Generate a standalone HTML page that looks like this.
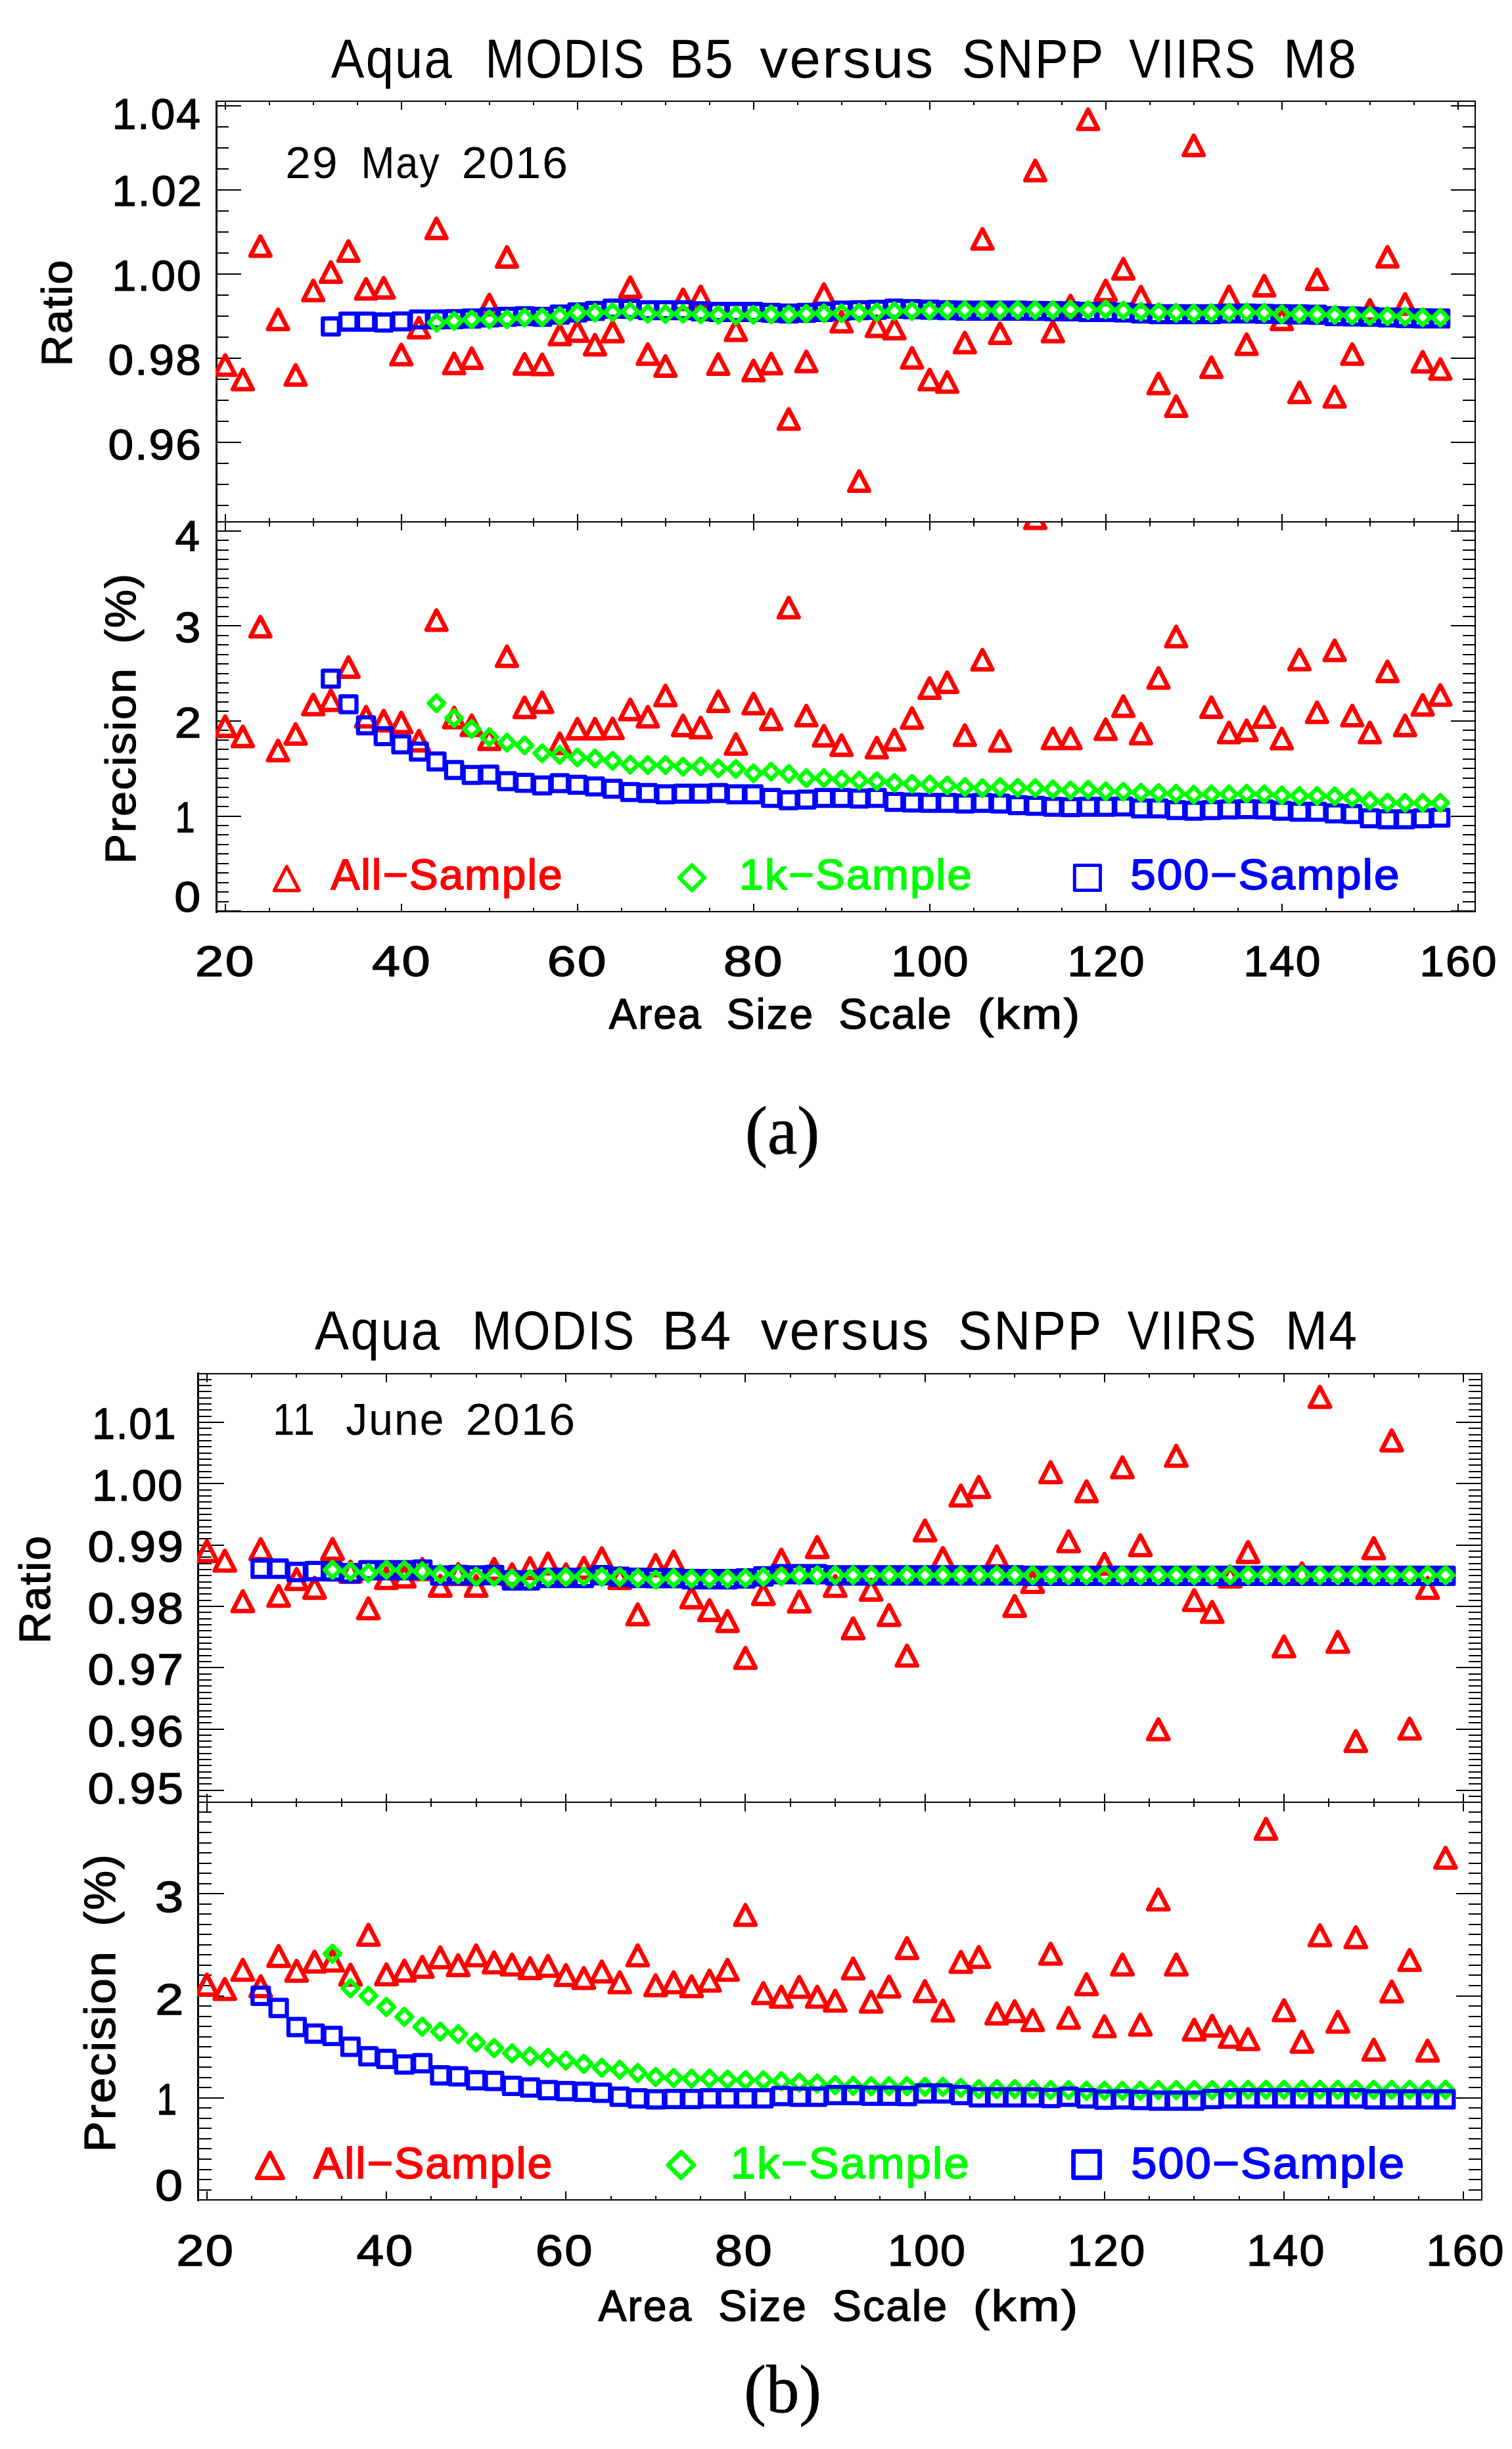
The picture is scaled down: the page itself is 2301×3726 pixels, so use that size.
<!DOCTYPE html>
<html lang="en"><head><meta charset="utf-8"><title>Aqua MODIS versus SNPP VIIRS</title>
<style>html,body{margin:0;padding:0;background:#fff}svg{display:block}text{white-space:pre}</style></head><body>
<svg width="2301" height="3726" viewBox="0 0 2301 3726">
<rect width="2301" height="3726" fill="#fff"/>
<defs>
<clipPath id="clipat"><rect x="328.1" y="154" width="1917.9" height="640.4"/></clipPath>
<clipPath id="clipab"><rect x="328.1" y="794.4" width="1917.9" height="592.9"/></clipPath>
<clipPath id="clipbt"><rect x="300.1" y="2089.6" width="1956.3" height="652.8"/></clipPath>
<clipPath id="clipbb"><rect x="300.1" y="2742.4" width="1956.3" height="605"/></clipPath>
</defs>
<path d="M342.7 154v12.8M342.7 781.6v25.6M342.7 1387.3v-12.8M409.7 154v6.4M409.7 788v12.8M409.7 1387.3v-6.4M476.7 154v6.4M476.7 788v12.8M476.7 1387.3v-6.4M543.7 154v6.4M543.7 788v12.8M543.7 1387.3v-6.4M610.7 154v12.8M610.7 781.6v25.6M610.7 1387.3v-12.8M677.7 154v6.4M677.7 788v12.8M677.7 1387.3v-6.4M744.7 154v6.4M744.7 788v12.8M744.7 1387.3v-6.4M811.7 154v6.4M811.7 788v12.8M811.7 1387.3v-6.4M878.7 154v12.8M878.7 781.6v25.6M878.7 1387.3v-12.8M945.7 154v6.4M945.7 788v12.8M945.7 1387.3v-6.4M1012.7 154v6.4M1012.7 788v12.8M1012.7 1387.3v-6.4M1079.7 154v6.4M1079.7 788v12.8M1079.7 1387.3v-6.4M1146.7 154v12.8M1146.7 781.6v25.6M1146.7 1387.3v-12.8M1213.7 154v6.4M1213.7 788v12.8M1213.7 1387.3v-6.4M1280.7 154v6.4M1280.7 788v12.8M1280.7 1387.3v-6.4M1347.7 154v6.4M1347.7 788v12.8M1347.7 1387.3v-6.4M1414.7 154v12.8M1414.7 781.6v25.6M1414.7 1387.3v-12.8M1481.7 154v6.4M1481.7 788v12.8M1481.7 1387.3v-6.4M1548.7 154v6.4M1548.7 788v12.8M1548.7 1387.3v-6.4M1615.7 154v6.4M1615.7 788v12.8M1615.7 1387.3v-6.4M1682.7 154v12.8M1682.7 781.6v25.6M1682.7 1387.3v-12.8M1749.7 154v6.4M1749.7 788v12.8M1749.7 1387.3v-6.4M1816.7 154v6.4M1816.7 788v12.8M1816.7 1387.3v-6.4M1883.7 154v6.4M1883.7 788v12.8M1883.7 1387.3v-6.4M1950.7 154v12.8M1950.7 781.6v25.6M1950.7 1387.3v-12.8M2017.7 154v6.4M2017.7 788v12.8M2017.7 1387.3v-6.4M2084.7 154v6.4M2084.7 788v12.8M2084.7 1387.3v-6.4M2151.7 154v6.4M2151.7 788v12.8M2151.7 1387.3v-6.4M2218.7 154v12.8M2218.7 781.6v25.6M2218.7 1387.3v-12.8M329.5 768.6h18.7M2245 768.6h-18.7M329.5 736.6h18.7M2245 736.6h-18.7M329.5 704.6h18.7M2245 704.6h-18.7M329.5 672.6h37.5M2245 672.6h-37.5M329.5 640.6h18.7M2245 640.6h-18.7M329.5 608.6h18.7M2245 608.6h-18.7M329.5 576.6h18.7M2245 576.6h-18.7M329.5 544.6h37.5M2245 544.6h-37.5M329.5 512.6h18.7M2245 512.6h-18.7M329.5 480.6h18.7M2245 480.6h-18.7M329.5 448.6h18.7M2245 448.6h-18.7M329.5 416.6h37.5M2245 416.6h-37.5M329.5 384.6h18.7M2245 384.6h-18.7M329.5 352.6h18.7M2245 352.6h-18.7M329.5 320.6h18.7M2245 320.6h-18.7M329.5 288.6h37.5M2245 288.6h-37.5M329.5 256.6h18.7M2245 256.6h-18.7M329.5 224.6h18.7M2245 224.6h-18.7M329.5 192.6h18.7M2245 192.6h-18.7M329.5 160.6h37.5M2245 160.6h-37.5M329.5 1386.1h37.5M2245 1386.1h-37.5M329.5 1371.64h18.7M2245 1371.64h-18.7M329.5 1357.18h18.7M2245 1357.18h-18.7M329.5 1342.72h18.7M2245 1342.72h-18.7M329.5 1328.26h18.7M2245 1328.26h-18.7M329.5 1313.8h18.7M2245 1313.8h-18.7M329.5 1299.34h18.7M2245 1299.34h-18.7M329.5 1284.88h18.7M2245 1284.88h-18.7M329.5 1270.42h18.7M2245 1270.42h-18.7M329.5 1255.96h18.7M2245 1255.96h-18.7M329.5 1241.5h37.5M2245 1241.5h-37.5M329.5 1227.04h18.7M2245 1227.04h-18.7M329.5 1212.58h18.7M2245 1212.58h-18.7M329.5 1198.12h18.7M2245 1198.12h-18.7M329.5 1183.66h18.7M2245 1183.66h-18.7M329.5 1169.2h18.7M2245 1169.2h-18.7M329.5 1154.74h18.7M2245 1154.74h-18.7M329.5 1140.28h18.7M2245 1140.28h-18.7M329.5 1125.82h18.7M2245 1125.82h-18.7M329.5 1111.36h18.7M2245 1111.36h-18.7M329.5 1096.9h37.5M2245 1096.9h-37.5M329.5 1082.44h18.7M2245 1082.44h-18.7M329.5 1067.98h18.7M2245 1067.98h-18.7M329.5 1053.52h18.7M2245 1053.52h-18.7M329.5 1039.06h18.7M2245 1039.06h-18.7M329.5 1024.6h18.7M2245 1024.6h-18.7M329.5 1010.14h18.7M2245 1010.14h-18.7M329.5 995.68h18.7M2245 995.68h-18.7M329.5 981.22h18.7M2245 981.22h-18.7M329.5 966.76h18.7M2245 966.76h-18.7M329.5 952.3h37.5M2245 952.3h-37.5M329.5 937.84h18.7M2245 937.84h-18.7M329.5 923.38h18.7M2245 923.38h-18.7M329.5 908.92h18.7M2245 908.92h-18.7M329.5 894.46h18.7M2245 894.46h-18.7M329.5 880h18.7M2245 880h-18.7M329.5 865.54h18.7M2245 865.54h-18.7M329.5 851.08h18.7M2245 851.08h-18.7M329.5 836.62h18.7M2245 836.62h-18.7M329.5 822.16h18.7M2245 822.16h-18.7M329.5 807.7h37.5M2245 807.7h-37.5" stroke="#000" stroke-width="2" fill="none" shape-rendering="crispEdges"/>
<path d="M329.5 154H2245M329.5 794.4H2245M329.5 1387.3H2245" stroke="#000" stroke-width="2" fill="none" stroke-linecap="square" shape-rendering="crispEdges"/>
<path d="M2245 154V1387.3" stroke="#000" stroke-width="2" fill="none" stroke-linecap="square" shape-rendering="crispEdges"/>
<path d="M329.5 154V1387.3" stroke="#000" stroke-width="3" fill="none" stroke-linecap="square" shape-rendering="crispEdges"/>
<g clip-path="url(#clipat)">
<path d="M327.5 570.2L342.7 540.8L357.9 570.2ZM354.3 592.2L369.5 562.8L384.7 592.2ZM381.1 389.1L396.3 359.7L411.5 389.1ZM407.9 500.7L423.1 471.3L438.3 500.7ZM434.7 585.2L449.9 555.8L465.1 585.2ZM461.5 456.7L476.7 427.3L491.9 456.7ZM488.3 428.7L503.5 399.3L518.7 428.7ZM515.1 396.7L530.3 367.3L545.5 396.7ZM541.9 454.2L557.1 424.8L572.3 454.2ZM568.7 452.7L583.9 423.3L599.1 452.7ZM595.5 554.2L610.7 524.8L625.9 554.2ZM622.3 513.2L637.5 483.8L652.7 513.2ZM649.1 362.2L664.3 332.8L679.5 362.2ZM675.9 567.7L691.1 538.3L706.3 567.7ZM702.7 559.7L717.9 530.3L733.1 559.7ZM729.5 478.2L744.7 448.8L759.9 478.2ZM756.3 405.7L771.5 376.3L786.7 405.7ZM783.1 568.45L798.3 539.05L813.5 568.45ZM809.9 569.2L825.1 539.8L840.3 569.2ZM836.7 523.7L851.9 494.3L867.1 523.7ZM863.5 518.45L878.7 489.05L893.9 518.45ZM890.3 539.2L905.5 509.8L920.7 539.2ZM917.1 519.2L932.3 489.8L947.5 519.2ZM943.9 451.7L959.1 422.3L974.3 451.7ZM970.7 553.45L985.9 524.05L1001.1 553.45ZM997.5 571.7L1012.7 542.3L1027.9 571.7ZM1024.3 470.2L1039.5 440.8L1054.7 470.2ZM1051.1 465.7L1066.3 436.3L1081.5 465.7ZM1077.9 568.7L1093.1 539.3L1108.3 568.7ZM1104.7 517.2L1119.9 487.8L1135.1 517.2ZM1131.5 578.45L1146.7 549.05L1161.9 578.45ZM1158.3 567.95L1173.5 538.55L1188.7 567.95ZM1185.1 652.2L1200.3 622.8L1215.5 652.2ZM1211.9 564.7L1227.1 535.3L1242.3 564.7ZM1238.7 462.2L1253.9 432.8L1269.1 462.2ZM1265.5 504.2L1280.7 474.8L1295.9 504.2ZM1292.3 746.7L1307.5 717.3L1322.7 746.7ZM1319.1 511.2L1334.3 481.8L1349.5 511.2ZM1345.9 514.7L1361.1 485.3L1376.3 514.7ZM1372.7 559.2L1387.9 529.8L1403.1 559.2ZM1399.5 592.2L1414.7 562.8L1429.9 592.2ZM1426.3 595.95L1441.5 566.55L1456.7 595.95ZM1453.1 535.95L1468.3 506.55L1483.5 535.95ZM1479.9 378.2L1495.1 348.8L1510.3 378.2ZM1506.7 521.7L1521.9 492.3L1537.1 521.7ZM1560.3 274.2L1575.5 244.8L1590.7 274.2ZM1587.1 519.2L1602.3 489.8L1617.5 519.2ZM1613.9 479.7L1629.1 450.3L1644.3 479.7ZM1640.7 196.2L1655.9 166.8L1671.1 196.2ZM1667.5 456.7L1682.7 427.3L1697.9 456.7ZM1694.3 423.7L1709.5 394.3L1724.7 423.7ZM1721.1 466.2L1736.3 436.8L1751.5 466.2ZM1747.9 598.2L1763.1 568.8L1778.3 598.2ZM1774.7 632.7L1789.9 603.3L1805.1 632.7ZM1801.5 235.95L1816.7 206.55L1831.9 235.95ZM1828.3 573.45L1843.5 544.05L1858.7 573.45ZM1855.1 465.7L1870.3 436.3L1885.5 465.7ZM1881.9 538.45L1897.1 509.05L1912.3 538.45ZM1908.7 449.45L1923.9 420.05L1939.1 449.45ZM1935.5 500.7L1950.7 471.3L1965.9 500.7ZM1962.3 611.7L1977.5 582.3L1992.7 611.7ZM1989.1 439.7L2004.3 410.3L2019.5 439.7ZM2015.9 618.45L2031.1 589.05L2046.3 618.45ZM2042.7 553.45L2057.9 524.05L2073.1 553.45ZM2069.5 486.2L2084.7 456.8L2099.9 486.2ZM2096.3 405.45L2111.5 376.05L2126.7 405.45ZM2123.1 477.2L2138.3 447.8L2153.5 477.2ZM2149.9 565.2L2165.1 535.8L2180.3 565.2ZM2176.7 576.2L2191.9 546.8L2207.1 576.2Z" stroke="#ff0000" stroke-width="6.7" fill="none" stroke-linejoin="round"/>
<path d="M491.3 484.5h24.4v24.4h-24.4ZM518.1 477.1h24.4v24.4h-24.4ZM544.9 477.1h24.4v24.4h-24.4ZM571.7 478.5h24.4v24.4h-24.4ZM598.5 476.8h24.4v24.4h-24.4ZM625.3 473.8h24.4v24.4h-24.4ZM652.1 473.8h24.4v24.4h-24.4ZM678.9 473.3h24.4v24.4h-24.4ZM705.7 472.5h24.4v24.4h-24.4ZM732.5 470.8h24.4v24.4h-24.4ZM759.3 469.8h24.4v24.4h-24.4ZM786.1 468.8h24.4v24.4h-24.4ZM812.9 469.8h24.4v24.4h-24.4ZM839.7 466.5h24.4v24.4h-24.4ZM866.5 463.1h24.4v24.4h-24.4ZM893.3 460.8h24.4v24.4h-24.4ZM920.1 457.5h24.4v24.4h-24.4ZM946.9 457.8h24.4v24.4h-24.4ZM973.7 459.8h24.4v24.4h-24.4ZM1000.5 459.8h24.4v24.4h-24.4ZM1027.3 459.8h24.4v24.4h-24.4ZM1054.1 461.5h24.4v24.4h-24.4ZM1080.9 462.5h24.4v24.4h-24.4ZM1107.7 462.5h24.4v24.4h-24.4ZM1134.5 462.5h24.4v24.4h-24.4ZM1161.3 463.8h24.4v24.4h-24.4ZM1188.1 464.8h24.4v24.4h-24.4ZM1214.9 463.8h24.4v24.4h-24.4ZM1241.7 462.5h24.4v24.4h-24.4ZM1268.5 460.5h24.4v24.4h-24.4ZM1295.3 459.8h24.4v24.4h-24.4ZM1322.1 459.1h24.4v24.4h-24.4ZM1348.9 457.5h24.4v24.4h-24.4ZM1375.7 458.1h24.4v24.4h-24.4ZM1402.5 459h24.4v24.4h-24.4ZM1429.3 459.8h24.4v24.4h-24.4ZM1456.1 460.5h24.4v24.4h-24.4ZM1482.9 460.5h24.4v24.4h-24.4ZM1509.7 460.5h24.4v24.4h-24.4ZM1536.5 460.5h24.4v24.4h-24.4ZM1563.3 460.8h24.4v24.4h-24.4ZM1590.1 461.1h24.4v24.4h-24.4ZM1616.9 461.5h24.4v24.4h-24.4ZM1643.7 462.5h24.4v24.4h-24.4ZM1670.5 462.5h24.4v24.4h-24.4ZM1697.3 463.3h24.4v24.4h-24.4ZM1724.1 464.8h24.4v24.4h-24.4ZM1750.9 465.8h24.4v24.4h-24.4ZM1777.7 465.8h24.4v24.4h-24.4ZM1804.5 465.8h24.4v24.4h-24.4ZM1831.3 465.8h24.4v24.4h-24.4ZM1858.1 464.8h24.4v24.4h-24.4ZM1884.9 464.8h24.4v24.4h-24.4ZM1911.7 465.3h24.4v24.4h-24.4ZM1938.5 465.8h24.4v24.4h-24.4ZM1965.3 466.2h24.4v24.4h-24.4ZM1992.1 466.6h24.4v24.4h-24.4ZM2018.9 468.8h24.4v24.4h-24.4ZM2045.7 469.3h24.4v24.4h-24.4ZM2072.5 469.8h24.4v24.4h-24.4ZM2099.3 470.8h24.4v24.4h-24.4ZM2126.1 471.6h24.4v24.4h-24.4ZM2152.9 472.1h24.4v24.4h-24.4ZM2179.7 472.3h24.4v24.4h-24.4Z" stroke="#0000ff" stroke-width="6.3" fill="none" stroke-linejoin="round"/>
<path d="M652.7 491L664.3 479.4L675.9 491L664.3 502.6ZM679.5 488.3L691.1 476.7L702.7 488.3L691.1 499.9ZM706.3 486L717.9 474.4L729.5 486L717.9 497.6ZM733.1 486L744.7 474.4L756.3 486L744.7 497.6ZM759.9 485.7L771.5 474.1L783.1 485.7L771.5 497.3ZM786.7 483.3L798.3 471.7L809.9 483.3L798.3 494.9ZM813.5 482.7L825.1 471.1L836.7 482.7L825.1 494.3ZM840.3 480.7L851.9 469.1L863.5 480.7L851.9 492.3ZM867.1 476L878.7 464.4L890.3 476L878.7 487.6ZM893.9 475.7L905.5 464.1L917.1 475.7L905.5 487.3ZM920.7 475L932.3 463.4L943.9 475L932.3 486.6ZM947.5 474L959.1 462.4L970.7 474L959.1 485.6ZM974.3 477.3L985.9 465.7L997.5 477.3L985.9 488.9ZM1001.1 477.7L1012.7 466.1L1024.3 477.7L1012.7 489.3ZM1027.9 477.3L1039.5 465.7L1051.1 477.3L1039.5 488.9ZM1054.7 478.3L1066.3 466.7L1077.9 478.3L1066.3 489.9ZM1081.5 479.3L1093.1 467.7L1104.7 479.3L1093.1 490.9ZM1108.3 480L1119.9 468.4L1131.5 480L1119.9 491.6ZM1135.1 479L1146.7 467.4L1158.3 479L1146.7 490.6ZM1161.9 478.3L1173.5 466.7L1185.1 478.3L1173.5 489.9ZM1188.7 478.3L1200.3 466.7L1211.9 478.3L1200.3 489.9ZM1215.5 477.3L1227.1 465.7L1238.7 477.3L1227.1 488.9ZM1242.3 476.7L1253.9 465.1L1265.5 476.7L1253.9 488.3ZM1269.1 476.7L1280.7 465.1L1292.3 476.7L1280.7 488.3ZM1295.9 475.7L1307.5 464.1L1319.1 475.7L1307.5 487.3ZM1322.7 475L1334.3 463.4L1345.9 475L1334.3 486.6ZM1349.5 473.3L1361.1 461.7L1372.7 473.3L1361.1 484.9ZM1376.3 473.3L1387.9 461.7L1399.5 473.3L1387.9 484.9ZM1403.1 472.7L1414.7 461.1L1426.3 472.7L1414.7 484.3ZM1429.9 472.3L1441.5 460.7L1453.1 472.3L1441.5 483.9ZM1456.7 472L1468.3 460.4L1479.9 472L1468.3 483.6ZM1483.5 471.7L1495.1 460.1L1506.7 471.7L1495.1 483.3ZM1510.3 472.3L1521.9 460.7L1533.5 472.3L1521.9 483.9ZM1537.1 471.7L1548.7 460.1L1560.3 471.7L1548.7 483.3ZM1563.9 471.7L1575.5 460.1L1587.1 471.7L1575.5 483.3ZM1590.7 471.7L1602.3 460.1L1613.9 471.7L1602.3 483.3ZM1617.5 471L1629.1 459.4L1640.7 471L1629.1 482.6ZM1644.3 471.7L1655.9 460.1L1667.5 471.7L1655.9 483.3ZM1671.1 470.7L1682.7 459.1L1694.3 470.7L1682.7 482.3ZM1697.9 472.3L1709.5 460.7L1721.1 472.3L1709.5 483.9ZM1724.7 474.3L1736.3 462.7L1747.9 474.3L1736.3 485.9ZM1751.5 475L1763.1 463.4L1774.7 475L1763.1 486.6ZM1778.3 476L1789.9 464.4L1801.5 476L1789.9 487.6ZM1805.1 476.8L1816.7 465.2L1828.3 476.8L1816.7 488.4ZM1831.9 476.3L1843.5 464.7L1855.1 476.3L1843.5 487.9ZM1858.7 475.5L1870.3 463.9L1881.9 475.5L1870.3 487.1ZM1885.5 475.5L1897.1 463.9L1908.7 475.5L1897.1 487.1ZM1912.3 476L1923.9 464.4L1935.5 476L1923.9 487.6ZM1939.1 478.3L1950.7 466.7L1962.3 478.3L1950.7 489.9ZM1965.9 477.7L1977.5 466.1L1989.1 477.7L1977.5 489.3ZM1992.7 478.3L2004.3 466.7L2015.9 478.3L2004.3 489.9ZM2019.5 479L2031.1 467.4L2042.7 479L2031.1 490.6ZM2046.3 480L2057.9 468.4L2069.5 480L2057.9 491.6ZM2073.1 480.7L2084.7 469.1L2096.3 480.7L2084.7 492.3ZM2099.9 481L2111.5 469.4L2123.1 481L2111.5 492.6ZM2126.7 481.7L2138.3 470.1L2149.9 481.7L2138.3 493.3ZM2153.5 482.7L2165.1 471.1L2176.7 482.7L2165.1 494.3ZM2180.3 483.3L2191.9 471.7L2203.5 483.3L2191.9 494.9Z" stroke="#00ff00" stroke-width="6.7" fill="none" stroke-linejoin="round"/>
</g>
<g clip-path="url(#clipab)">
<path d="M327.5 1119.7L342.7 1090.3L357.9 1119.7ZM354.3 1135.2L369.5 1105.8L384.7 1135.2ZM381.1 968.2L396.3 938.8L411.5 968.2ZM407.9 1156.7L423.1 1127.3L438.3 1156.7ZM434.7 1131.45L449.9 1102.05L465.1 1131.45ZM461.5 1086.7L476.7 1057.3L491.9 1086.7ZM488.3 1080.2L503.5 1050.8L518.7 1080.2ZM515.1 1029.7L530.3 1000.3L545.5 1029.7ZM541.9 1105.2L557.1 1075.8L572.3 1105.2ZM568.7 1111.2L583.9 1081.8L599.1 1111.2ZM595.5 1113.95L610.7 1084.55L625.9 1113.95ZM622.3 1141.7L637.5 1112.3L652.7 1141.7ZM649.1 958.2L664.3 928.8L679.5 958.2ZM675.9 1106.45L691.1 1077.05L706.3 1106.45ZM702.7 1118.2L717.9 1088.8L733.1 1118.2ZM729.5 1139.45L744.7 1110.05L759.9 1139.45ZM756.3 1013.2L771.5 983.8L786.7 1013.2ZM783.1 1090.95L798.3 1061.55L813.5 1090.95ZM809.9 1083.2L825.1 1053.8L840.3 1083.2ZM836.7 1145.7L851.9 1116.3L867.1 1145.7ZM863.5 1123.45L878.7 1094.05L893.9 1123.45ZM890.3 1123.45L905.5 1094.05L920.7 1123.45ZM917.1 1122.95L932.3 1093.55L947.5 1122.95ZM943.9 1094.2L959.1 1064.8L974.3 1094.2ZM970.7 1105.2L985.9 1075.8L1001.1 1105.2ZM997.5 1072.95L1012.7 1043.55L1027.9 1072.95ZM1024.3 1118.45L1039.5 1089.05L1054.7 1118.45ZM1051.1 1121.7L1066.3 1092.3L1081.5 1121.7ZM1077.9 1081.7L1093.1 1052.3L1108.3 1081.7ZM1104.7 1146.7L1119.9 1117.3L1135.1 1146.7ZM1131.5 1085.2L1146.7 1055.8L1161.9 1085.2ZM1158.3 1109.2L1173.5 1079.8L1188.7 1109.2ZM1185.1 939.2L1200.3 909.8L1215.5 939.2ZM1211.9 1103.45L1227.1 1074.05L1242.3 1103.45ZM1238.7 1134.2L1253.9 1104.8L1269.1 1134.2ZM1265.5 1148.45L1280.7 1119.05L1295.9 1148.45ZM1319.1 1152.2L1334.3 1122.8L1349.5 1152.2ZM1345.9 1140.2L1361.1 1110.8L1376.3 1140.2ZM1372.7 1107.2L1387.9 1077.8L1403.1 1107.2ZM1399.5 1061.7L1414.7 1032.3L1429.9 1061.7ZM1426.3 1052.7L1441.5 1023.3L1456.7 1052.7ZM1453.1 1133.2L1468.3 1103.8L1483.5 1133.2ZM1479.9 1018.45L1495.1 989.05L1510.3 1018.45ZM1506.7 1141.95L1521.9 1112.55L1537.1 1141.95ZM1560.3 803.2L1575.5 773.8L1590.7 803.2ZM1587.1 1138.2L1602.3 1108.8L1617.5 1138.2ZM1613.9 1138.2L1629.1 1108.8L1644.3 1138.2ZM1667.5 1124.2L1682.7 1094.8L1697.9 1124.2ZM1694.3 1089.2L1709.5 1059.8L1724.7 1089.2ZM1721.1 1130.95L1736.3 1101.55L1751.5 1130.95ZM1747.9 1046.2L1763.1 1016.8L1778.3 1046.2ZM1774.7 983.2L1789.9 953.8L1805.1 983.2ZM1828.3 1090.7L1843.5 1061.3L1858.7 1090.7ZM1855.1 1129.2L1870.3 1099.8L1885.5 1129.2ZM1881.9 1125.95L1897.1 1096.55L1912.3 1125.95ZM1908.7 1105.7L1923.9 1076.3L1939.1 1105.7ZM1935.5 1138.45L1950.7 1109.05L1965.9 1138.45ZM1962.3 1018.2L1977.5 988.8L1992.7 1018.2ZM1989.1 1098.45L2004.3 1069.05L2019.5 1098.45ZM2015.9 1004.2L2031.1 974.8L2046.3 1004.2ZM2042.7 1103.45L2057.9 1074.05L2073.1 1103.45ZM2069.5 1129.2L2084.7 1099.8L2099.9 1129.2ZM2096.3 1036.2L2111.5 1006.8L2126.7 1036.2ZM2123.1 1118.45L2138.3 1089.05L2153.5 1118.45ZM2149.9 1087.2L2165.1 1057.8L2180.3 1087.2ZM2176.7 1072.2L2191.9 1042.8L2207.1 1072.2Z" stroke="#ff0000" stroke-width="6.7" fill="none" stroke-linejoin="round"/>
<path d="M491.3 1020.3h24.4v24.4h-24.4ZM518.1 1059.3h24.4v24.4h-24.4ZM544.9 1091.3h24.4v24.4h-24.4ZM571.7 1107.8h24.4v24.4h-24.4ZM598.5 1120.3h24.4v24.4h-24.4ZM625.3 1131.3h24.4v24.4h-24.4ZM652.1 1146.3h24.4v24.4h-24.4ZM678.9 1159.3h24.4v24.4h-24.4ZM705.7 1166.8h24.4v24.4h-24.4ZM732.5 1166.3h24.4v24.4h-24.4ZM759.3 1176.3h24.4v24.4h-24.4ZM786.1 1178.8h24.4v24.4h-24.4ZM812.9 1182.8h24.4v24.4h-24.4ZM839.7 1179.3h24.4v24.4h-24.4ZM866.5 1181.8h24.4v24.4h-24.4ZM893.3 1184.3h24.4v24.4h-24.4ZM920.1 1187.8h24.4v24.4h-24.4ZM946.9 1192.8h24.4v24.4h-24.4ZM973.7 1194.3h24.4v24.4h-24.4ZM1000.5 1196.3h24.4v24.4h-24.4ZM1027.3 1195.3h24.4v24.4h-24.4ZM1054.1 1195.3h24.4v24.4h-24.4ZM1080.9 1194.3h24.4v24.4h-24.4ZM1107.7 1196.3h24.4v24.4h-24.4ZM1134.5 1196.3h24.4v24.4h-24.4ZM1161.3 1201.8h24.4v24.4h-24.4ZM1188.1 1205.3h24.4v24.4h-24.4ZM1214.9 1204.3h24.4v24.4h-24.4ZM1241.7 1201.8h24.4v24.4h-24.4ZM1268.5 1201.8h24.4v24.4h-24.4ZM1295.3 1202.8h24.4v24.4h-24.4ZM1322.1 1201.8h24.4v24.4h-24.4ZM1348.9 1207.8h24.4v24.4h-24.4ZM1375.7 1208.8h24.4v24.4h-24.4ZM1402.5 1209.3h24.4v24.4h-24.4ZM1429.3 1209.3h24.4v24.4h-24.4ZM1456.1 1210.3h24.4v24.4h-24.4ZM1482.9 1209.3h24.4v24.4h-24.4ZM1509.7 1210.3h24.4v24.4h-24.4ZM1536.5 1212.8h24.4v24.4h-24.4ZM1563.3 1213.8h24.4v24.4h-24.4ZM1590.1 1215.3h24.4v24.4h-24.4ZM1616.9 1215.8h24.4v24.4h-24.4ZM1643.7 1215.3h24.4v24.4h-24.4ZM1670.5 1215.3h24.4v24.4h-24.4ZM1697.3 1214.8h24.4v24.4h-24.4ZM1724.1 1217.8h24.4v24.4h-24.4ZM1750.9 1217.8h24.4v24.4h-24.4ZM1777.7 1220.3h24.4v24.4h-24.4ZM1804.5 1221.3h24.4v24.4h-24.4ZM1831.3 1220.3h24.4v24.4h-24.4ZM1858.1 1219.3h24.4v24.4h-24.4ZM1884.9 1218.8h24.4v24.4h-24.4ZM1911.7 1219.3h24.4v24.4h-24.4ZM1938.5 1221.3h24.4v24.4h-24.4ZM1965.3 1222.8h24.4v24.4h-24.4ZM1992.1 1222.8h24.4v24.4h-24.4ZM2018.9 1225.3h24.4v24.4h-24.4ZM2045.7 1226.3h24.4v24.4h-24.4ZM2072.5 1232.8h24.4v24.4h-24.4ZM2099.3 1234.3h24.4v24.4h-24.4ZM2126.1 1234.3h24.4v24.4h-24.4ZM2152.9 1232.8h24.4v24.4h-24.4ZM2179.7 1231.8h24.4v24.4h-24.4Z" stroke="#0000ff" stroke-width="6.3" fill="none" stroke-linejoin="round"/>
<path d="M652.7 1070L664.3 1058.4L675.9 1070L664.3 1081.6ZM679.5 1092.5L691.1 1080.9L702.7 1092.5L691.1 1104.1ZM706.3 1109L717.9 1097.4L729.5 1109L717.9 1120.6ZM733.1 1121.5L744.7 1109.9L756.3 1121.5L744.7 1133.1ZM759.9 1130L771.5 1118.4L783.1 1130L771.5 1141.6ZM786.7 1134L798.3 1122.4L809.9 1134L798.3 1145.6ZM813.5 1146L825.1 1134.4L836.7 1146L825.1 1157.6ZM840.3 1148.5L851.9 1136.9L863.5 1148.5L851.9 1160.1ZM867.1 1152.5L878.7 1140.9L890.3 1152.5L878.7 1164.1ZM893.9 1154L905.5 1142.4L917.1 1154L905.5 1165.6ZM920.7 1157.5L932.3 1145.9L943.9 1157.5L932.3 1169.1ZM947.5 1163.5L959.1 1151.9L970.7 1163.5L959.1 1175.1ZM974.3 1164L985.9 1152.4L997.5 1164L985.9 1175.6ZM1001.1 1164L1012.7 1152.4L1024.3 1164L1012.7 1175.6ZM1027.9 1166.5L1039.5 1154.9L1051.1 1166.5L1039.5 1178.1ZM1054.7 1166L1066.3 1154.4L1077.9 1166L1066.3 1177.6ZM1081.5 1169L1093.1 1157.4L1104.7 1169L1093.1 1180.6ZM1108.3 1170L1119.9 1158.4L1131.5 1170L1119.9 1181.6ZM1135.1 1176.5L1146.7 1164.9L1158.3 1176.5L1146.7 1188.1ZM1161.9 1174L1173.5 1162.4L1185.1 1174L1173.5 1185.6ZM1188.7 1177.5L1200.3 1165.9L1211.9 1177.5L1200.3 1189.1ZM1215.5 1184L1227.1 1172.4L1238.7 1184L1227.1 1195.6ZM1242.3 1184L1253.9 1172.4L1265.5 1184L1253.9 1195.6ZM1269.1 1186L1280.7 1174.4L1292.3 1186L1280.7 1197.6ZM1295.9 1187.5L1307.5 1175.9L1319.1 1187.5L1307.5 1199.1ZM1322.7 1188.5L1334.3 1176.9L1345.9 1188.5L1334.3 1200.1ZM1349.5 1191L1361.1 1179.4L1372.7 1191L1361.1 1202.6ZM1376.3 1192.5L1387.9 1180.9L1399.5 1192.5L1387.9 1204.1ZM1403.1 1193.5L1414.7 1181.9L1426.3 1193.5L1414.7 1205.1ZM1429.9 1195L1441.5 1183.4L1453.1 1195L1441.5 1206.6ZM1456.7 1197.5L1468.3 1185.9L1479.9 1197.5L1468.3 1209.1ZM1483.5 1199L1495.1 1187.4L1506.7 1199L1495.1 1210.6ZM1510.3 1197.5L1521.9 1185.9L1533.5 1197.5L1521.9 1209.1ZM1537.1 1198.5L1548.7 1186.9L1560.3 1198.5L1548.7 1210.1ZM1563.9 1199L1575.5 1187.4L1587.1 1199L1575.5 1210.6ZM1590.7 1201L1602.3 1189.4L1613.9 1201L1602.3 1212.6ZM1617.5 1202.5L1629.1 1190.9L1640.7 1202.5L1629.1 1214.1ZM1644.3 1201.5L1655.9 1189.9L1667.5 1201.5L1655.9 1213.1ZM1671.1 1204L1682.7 1192.4L1694.3 1204L1682.7 1215.6ZM1697.9 1204.5L1709.5 1192.9L1721.1 1204.5L1709.5 1216.1ZM1724.7 1206L1736.3 1194.4L1747.9 1206L1736.3 1217.6ZM1751.5 1206.5L1763.1 1194.9L1774.7 1206.5L1763.1 1218.1ZM1778.3 1207.5L1789.9 1195.9L1801.5 1207.5L1789.9 1219.1ZM1805.1 1209L1816.7 1197.4L1828.3 1209L1816.7 1220.6ZM1831.9 1208.5L1843.5 1196.9L1855.1 1208.5L1843.5 1220.1ZM1858.7 1208.5L1870.3 1196.9L1881.9 1208.5L1870.3 1220.1ZM1885.5 1207.5L1897.1 1195.9L1908.7 1207.5L1897.1 1219.1ZM1912.3 1208.5L1923.9 1196.9L1935.5 1208.5L1923.9 1220.1ZM1939.1 1210L1950.7 1198.4L1962.3 1210L1950.7 1221.6ZM1965.9 1211L1977.5 1199.4L1989.1 1211L1977.5 1222.6ZM1992.7 1211L2004.3 1199.4L2015.9 1211L2004.3 1222.6ZM2019.5 1211.5L2031.1 1199.9L2042.7 1211.5L2031.1 1223.1ZM2046.3 1213.5L2057.9 1201.9L2069.5 1213.5L2057.9 1225.1ZM2073.1 1218.5L2084.7 1206.9L2096.3 1218.5L2084.7 1230.1ZM2099.9 1221L2111.5 1209.4L2123.1 1221L2111.5 1232.6ZM2126.7 1221.5L2138.3 1209.9L2149.9 1221.5L2138.3 1233.1ZM2153.5 1221.5L2165.1 1209.9L2176.7 1221.5L2165.1 1233.1ZM2180.3 1221.5L2191.9 1209.9L2203.5 1221.5L2191.9 1233.1Z" stroke="#00ff00" stroke-width="6.7" fill="none" stroke-linejoin="round"/>
</g>
<path d="M314.8 2089.6v13.2M314.8 2729.2v26.4M314.8 3347.4v-13.2M383.1 2089.6v6.5M383.1 2735.9v13M383.1 3347.4v-6.5M451.4 2089.6v6.5M451.4 2735.9v13M451.4 3347.4v-6.5M519.7 2089.6v6.5M519.7 2735.9v13M519.7 3347.4v-6.5M588 2089.6v13.2M588 2729.2v26.4M588 3347.4v-13.2M656.3 2089.6v6.5M656.3 2735.9v13M656.3 3347.4v-6.5M724.6 2089.6v6.5M724.6 2735.9v13M724.6 3347.4v-6.5M792.9 2089.6v6.5M792.9 2735.9v13M792.9 3347.4v-6.5M861.2 2089.6v13.2M861.2 2729.2v26.4M861.2 3347.4v-13.2M929.5 2089.6v6.5M929.5 2735.9v13M929.5 3347.4v-6.5M997.8 2089.6v6.5M997.8 2735.9v13M997.8 3347.4v-6.5M1066.1 2089.6v6.5M1066.1 2735.9v13M1066.1 3347.4v-6.5M1134.4 2089.6v13.2M1134.4 2729.2v26.4M1134.4 3347.4v-13.2M1202.7 2089.6v6.5M1202.7 2735.9v13M1202.7 3347.4v-6.5M1271 2089.6v6.5M1271 2735.9v13M1271 3347.4v-6.5M1339.3 2089.6v6.5M1339.3 2735.9v13M1339.3 3347.4v-6.5M1407.6 2089.6v13.2M1407.6 2729.2v26.4M1407.6 3347.4v-13.2M1475.9 2089.6v6.5M1475.9 2735.9v13M1475.9 3347.4v-6.5M1544.2 2089.6v6.5M1544.2 2735.9v13M1544.2 3347.4v-6.5M1612.5 2089.6v6.5M1612.5 2735.9v13M1612.5 3347.4v-6.5M1680.8 2089.6v13.2M1680.8 2729.2v26.4M1680.8 3347.4v-13.2M1749.1 2089.6v6.5M1749.1 2735.9v13M1749.1 3347.4v-6.5M1817.4 2089.6v6.5M1817.4 2735.9v13M1817.4 3347.4v-6.5M1885.7 2089.6v6.5M1885.7 2735.9v13M1885.7 3347.4v-6.5M1954 2089.6v13.2M1954 2729.2v26.4M1954 3347.4v-13.2M2022.3 2089.6v6.5M2022.3 2735.9v13M2022.3 3347.4v-6.5M2090.6 2089.6v6.5M2090.6 2735.9v13M2090.6 3347.4v-6.5M2158.9 2089.6v6.5M2158.9 2735.9v13M2158.9 3347.4v-6.5M2227.2 2089.6v13.2M2227.2 2729.2v26.4M2227.2 3347.4v-13.2M301.5 2733.13h20.2M2255.4 2733.13h-20.2M301.5 2723.8h39.8M2255.4 2723.8h-39.8M301.5 2714.47h20.2M2255.4 2714.47h-20.2M301.5 2705.14h20.2M2255.4 2705.14h-20.2M301.5 2695.81h20.2M2255.4 2695.81h-20.2M301.5 2686.48h20.2M2255.4 2686.48h-20.2M301.5 2677.15h20.2M2255.4 2677.15h-20.2M301.5 2667.82h20.2M2255.4 2667.82h-20.2M301.5 2658.49h20.2M2255.4 2658.49h-20.2M301.5 2649.16h20.2M2255.4 2649.16h-20.2M301.5 2639.83h20.2M2255.4 2639.83h-20.2M301.5 2630.5h39.8M2255.4 2630.5h-39.8M301.5 2621.17h20.2M2255.4 2621.17h-20.2M301.5 2611.84h20.2M2255.4 2611.84h-20.2M301.5 2602.51h20.2M2255.4 2602.51h-20.2M301.5 2593.18h20.2M2255.4 2593.18h-20.2M301.5 2583.85h20.2M2255.4 2583.85h-20.2M301.5 2574.52h20.2M2255.4 2574.52h-20.2M301.5 2565.19h20.2M2255.4 2565.19h-20.2M301.5 2555.86h20.2M2255.4 2555.86h-20.2M301.5 2546.53h20.2M2255.4 2546.53h-20.2M301.5 2537.2h39.8M2255.4 2537.2h-39.8M301.5 2527.87h20.2M2255.4 2527.87h-20.2M301.5 2518.54h20.2M2255.4 2518.54h-20.2M301.5 2509.21h20.2M2255.4 2509.21h-20.2M301.5 2499.88h20.2M2255.4 2499.88h-20.2M301.5 2490.55h20.2M2255.4 2490.55h-20.2M301.5 2481.22h20.2M2255.4 2481.22h-20.2M301.5 2471.89h20.2M2255.4 2471.89h-20.2M301.5 2462.56h20.2M2255.4 2462.56h-20.2M301.5 2453.23h20.2M2255.4 2453.23h-20.2M301.5 2443.9h39.8M2255.4 2443.9h-39.8M301.5 2434.57h20.2M2255.4 2434.57h-20.2M301.5 2425.24h20.2M2255.4 2425.24h-20.2M301.5 2415.91h20.2M2255.4 2415.91h-20.2M301.5 2406.58h20.2M2255.4 2406.58h-20.2M301.5 2397.25h20.2M2255.4 2397.25h-20.2M301.5 2387.92h20.2M2255.4 2387.92h-20.2M301.5 2378.59h20.2M2255.4 2378.59h-20.2M301.5 2369.26h20.2M2255.4 2369.26h-20.2M301.5 2359.93h20.2M2255.4 2359.93h-20.2M301.5 2350.6h39.8M2255.4 2350.6h-39.8M301.5 2341.27h20.2M2255.4 2341.27h-20.2M301.5 2331.94h20.2M2255.4 2331.94h-20.2M301.5 2322.61h20.2M2255.4 2322.61h-20.2M301.5 2313.28h20.2M2255.4 2313.28h-20.2M301.5 2303.95h20.2M2255.4 2303.95h-20.2M301.5 2294.62h20.2M2255.4 2294.62h-20.2M301.5 2285.29h20.2M2255.4 2285.29h-20.2M301.5 2275.96h20.2M2255.4 2275.96h-20.2M301.5 2266.63h20.2M2255.4 2266.63h-20.2M301.5 2257.3h39.8M2255.4 2257.3h-39.8M301.5 2247.97h20.2M2255.4 2247.97h-20.2M301.5 2238.64h20.2M2255.4 2238.64h-20.2M301.5 2229.31h20.2M2255.4 2229.31h-20.2M301.5 2219.98h20.2M2255.4 2219.98h-20.2M301.5 2210.65h20.2M2255.4 2210.65h-20.2M301.5 2201.32h20.2M2255.4 2201.32h-20.2M301.5 2191.99h20.2M2255.4 2191.99h-20.2M301.5 2182.66h20.2M2255.4 2182.66h-20.2M301.5 2173.33h20.2M2255.4 2173.33h-20.2M301.5 2164h39.8M2255.4 2164h-39.8M301.5 2154.67h20.2M2255.4 2154.67h-20.2M301.5 2145.34h20.2M2255.4 2145.34h-20.2M301.5 2136.01h20.2M2255.4 2136.01h-20.2M301.5 2126.68h20.2M2255.4 2126.68h-20.2M301.5 2117.35h20.2M2255.4 2117.35h-20.2M301.5 2108.02h20.2M2255.4 2108.02h-20.2M301.5 2098.69h20.2M2255.4 2098.69h-20.2M301.5 3347.1h39.8M2255.4 3347.1h-39.8M301.5 3331.57h20.2M2255.4 3331.57h-20.2M301.5 3316.04h20.2M2255.4 3316.04h-20.2M301.5 3300.51h20.2M2255.4 3300.51h-20.2M301.5 3284.98h20.2M2255.4 3284.98h-20.2M301.5 3269.45h20.2M2255.4 3269.45h-20.2M301.5 3253.92h20.2M2255.4 3253.92h-20.2M301.5 3238.39h20.2M2255.4 3238.39h-20.2M301.5 3222.86h20.2M2255.4 3222.86h-20.2M301.5 3207.33h20.2M2255.4 3207.33h-20.2M301.5 3191.8h39.8M2255.4 3191.8h-39.8M301.5 3176.27h20.2M2255.4 3176.27h-20.2M301.5 3160.74h20.2M2255.4 3160.74h-20.2M301.5 3145.21h20.2M2255.4 3145.21h-20.2M301.5 3129.68h20.2M2255.4 3129.68h-20.2M301.5 3114.15h20.2M2255.4 3114.15h-20.2M301.5 3098.62h20.2M2255.4 3098.62h-20.2M301.5 3083.09h20.2M2255.4 3083.09h-20.2M301.5 3067.56h20.2M2255.4 3067.56h-20.2M301.5 3052.03h20.2M2255.4 3052.03h-20.2M301.5 3036.5h39.8M2255.4 3036.5h-39.8M301.5 3020.97h20.2M2255.4 3020.97h-20.2M301.5 3005.44h20.2M2255.4 3005.44h-20.2M301.5 2989.91h20.2M2255.4 2989.91h-20.2M301.5 2974.38h20.2M2255.4 2974.38h-20.2M301.5 2958.85h20.2M2255.4 2958.85h-20.2M301.5 2943.32h20.2M2255.4 2943.32h-20.2M301.5 2927.79h20.2M2255.4 2927.79h-20.2M301.5 2912.26h20.2M2255.4 2912.26h-20.2M301.5 2896.73h20.2M2255.4 2896.73h-20.2M301.5 2881.2h39.8M2255.4 2881.2h-39.8M301.5 2865.67h20.2M2255.4 2865.67h-20.2M301.5 2850.14h20.2M2255.4 2850.14h-20.2M301.5 2834.61h20.2M2255.4 2834.61h-20.2M301.5 2819.08h20.2M2255.4 2819.08h-20.2M301.5 2803.55h20.2M2255.4 2803.55h-20.2M301.5 2788.02h20.2M2255.4 2788.02h-20.2M301.5 2772.49h20.2M2255.4 2772.49h-20.2M301.5 2756.96h20.2M2255.4 2756.96h-20.2" stroke="#000" stroke-width="2" fill="none" shape-rendering="crispEdges"/>
<path d="M301.5 2089.6H2255.4M301.5 2742.4H2255.4M301.5 3347.4H2255.4" stroke="#000" stroke-width="2" fill="none" stroke-linecap="square" shape-rendering="crispEdges"/>
<path d="M2255.4 2089.6V3347.4" stroke="#000" stroke-width="2" fill="none" stroke-linecap="square" shape-rendering="crispEdges"/>
<path d="M301.5 2089.6V3347.4" stroke="#000" stroke-width="3" fill="none" stroke-linecap="square" shape-rendering="crispEdges"/>
<g clip-path="url(#clipbt)">
<path d="M299.3 2374.99L314.8 2345.01L330.3 2374.99ZM326.62 2389.49L342.12 2359.51L357.62 2389.49ZM353.94 2451.19L369.44 2421.21L384.94 2451.19ZM381.26 2371.99L396.76 2342.01L412.26 2371.99ZM408.58 2442.99L424.08 2413.01L439.58 2442.99ZM435.9 2417.49L451.4 2387.51L466.9 2417.49ZM463.22 2430.79L478.72 2400.81L494.22 2430.79ZM490.54 2371.69L506.04 2341.71L521.54 2371.69ZM517.86 2406.29L533.36 2376.31L548.86 2406.29ZM545.18 2461.99L560.68 2432.01L576.18 2461.99ZM572.5 2415.99L588 2386.01L603.5 2415.99ZM599.82 2413.69L615.32 2383.71L630.82 2413.69ZM627.14 2402.29L642.64 2372.31L658.14 2402.29ZM654.46 2427.69L669.96 2397.71L685.46 2427.69ZM681.78 2409.99L697.28 2380.01L712.78 2409.99ZM709.1 2427.69L724.6 2397.71L740.1 2427.69ZM736.42 2401.99L751.92 2372.01L767.42 2401.99ZM763.74 2410.29L779.24 2380.31L794.74 2410.29ZM791.06 2400.69L806.56 2370.71L822.06 2400.69ZM818.38 2393.69L833.88 2363.71L849.38 2393.69ZM845.7 2410.29L861.2 2380.31L876.7 2410.29ZM873.02 2400.29L888.52 2370.31L904.02 2400.29ZM900.34 2385.69L915.84 2355.71L931.34 2385.69ZM927.66 2415.99L943.16 2386.01L958.66 2415.99ZM954.98 2471.19L970.48 2441.21L985.98 2471.19ZM982.3 2396.29L997.8 2366.31L1013.3 2396.29ZM1009.62 2390.69L1025.12 2360.71L1040.62 2390.69ZM1036.94 2445.29L1052.44 2415.31L1067.94 2445.29ZM1064.26 2464.69L1079.76 2434.71L1095.26 2464.69ZM1091.58 2481.29L1107.08 2451.31L1122.58 2481.29ZM1118.9 2537.49L1134.4 2507.51L1149.9 2537.49ZM1146.22 2440.29L1161.72 2410.31L1177.22 2440.29ZM1173.54 2387.99L1189.04 2358.01L1204.54 2387.99ZM1200.86 2451.69L1216.36 2421.71L1231.86 2451.69ZM1228.18 2368.79L1243.68 2338.81L1259.18 2368.79ZM1255.5 2427.99L1271 2398.01L1286.5 2427.99ZM1282.82 2492.39L1298.32 2462.41L1313.82 2492.39ZM1310.14 2433.69L1325.64 2403.71L1341.14 2433.69ZM1337.46 2472.19L1352.96 2442.21L1368.46 2472.19ZM1364.78 2533.99L1380.28 2504.01L1395.78 2533.99ZM1392.1 2343.49L1407.6 2313.51L1423.1 2343.49ZM1419.42 2385.39L1434.92 2355.41L1450.42 2385.39ZM1446.74 2290.49L1462.24 2260.51L1477.74 2290.49ZM1474.06 2277.49L1489.56 2247.51L1505.06 2277.49ZM1501.38 2382.99L1516.88 2353.01L1532.38 2382.99ZM1528.7 2458.39L1544.2 2428.41L1559.7 2458.39ZM1556.02 2421.99L1571.52 2392.01L1587.02 2421.99ZM1583.34 2254.99L1598.84 2225.01L1614.34 2254.99ZM1610.66 2359.99L1626.16 2330.01L1641.66 2359.99ZM1637.98 2283.99L1653.48 2254.01L1668.98 2283.99ZM1665.3 2394.19L1680.8 2364.21L1696.3 2394.19ZM1692.62 2247.49L1708.12 2217.51L1723.62 2247.49ZM1719.94 2365.99L1735.44 2336.01L1750.94 2365.99ZM1747.26 2645.99L1762.76 2616.01L1778.26 2645.99ZM1774.58 2229.99L1790.08 2200.01L1805.58 2229.99ZM1801.9 2449.49L1817.4 2419.51L1832.9 2449.49ZM1829.22 2467.49L1844.72 2437.51L1860.22 2467.49ZM1856.54 2413.59L1872.04 2383.61L1887.54 2413.59ZM1883.86 2376.39L1899.36 2346.41L1914.86 2376.39ZM1938.5 2519.99L1954 2490.01L1969.5 2519.99ZM1965.82 2408.79L1981.32 2378.81L1996.82 2408.79ZM1993.14 2140.29L2008.64 2110.31L2024.14 2140.29ZM2020.46 2512.99L2035.96 2483.01L2051.46 2512.99ZM2047.78 2663.99L2063.28 2634.01L2078.78 2663.99ZM2075.1 2370.59L2090.6 2340.61L2106.1 2370.59ZM2102.42 2206.59L2117.92 2176.61L2133.42 2206.59ZM2129.74 2644.99L2145.24 2615.01L2160.74 2644.99ZM2157.06 2430.99L2172.56 2401.01L2188.06 2430.99Z" stroke="#ff0000" stroke-width="6.7" fill="none" stroke-linejoin="round"/>
<path d="M384.32 2374.26h24.89v24.89h-24.89ZM411.64 2374.26h24.89v24.89h-24.89ZM438.96 2379.26h24.89v24.89h-24.89ZM466.28 2377.86h24.89v24.89h-24.89ZM493.6 2378.26h24.89v24.89h-24.89ZM520.92 2381.26h24.89v24.89h-24.89ZM548.24 2376.56h24.89v24.89h-24.89ZM575.56 2376.56h24.89v24.89h-24.89ZM602.88 2376.56h24.89v24.89h-24.89ZM630.2 2375.56h24.89v24.89h-24.89ZM657.52 2384.56h24.89v24.89h-24.89ZM684.84 2383.86h24.89v24.89h-24.89ZM712.16 2384.56h24.89v24.89h-24.89ZM739.48 2383.86h24.89v24.89h-24.89ZM766.8 2391.86h24.89v24.89h-24.89ZM794.12 2391.86h24.89v24.89h-24.89ZM821.44 2388.26h24.89v24.89h-24.89ZM848.76 2388.26h24.89v24.89h-24.89ZM876.08 2388.26h24.89v24.89h-24.89ZM903.4 2384.26h24.89v24.89h-24.89ZM930.72 2386.56h24.89v24.89h-24.89ZM958.04 2388.26h24.89v24.89h-24.89ZM985.36 2388.56h24.89v24.89h-24.89ZM1012.68 2388.56h24.89v24.89h-24.89ZM1040 2390.26h24.89v24.89h-24.89ZM1067.32 2390.26h24.89v24.89h-24.89ZM1094.64 2390.26h24.89v24.89h-24.89ZM1121.96 2389.06h24.89v24.89h-24.89ZM1149.28 2385.86h24.89v24.89h-24.89ZM1176.6 2382.56h24.89v24.89h-24.89ZM1203.92 2382.56h24.89v24.89h-24.89ZM1231.24 2382.56h24.89v24.89h-24.89ZM1258.56 2384.36h24.89v24.89h-24.89ZM1285.88 2384.36h24.89v24.89h-24.89ZM1313.2 2384.36h24.89v24.89h-24.89ZM1340.52 2384.36h24.89v24.89h-24.89ZM1367.84 2384.36h24.89v24.89h-24.89ZM1395.16 2384.36h24.89v24.89h-24.89ZM1422.48 2384.36h24.89v24.89h-24.89ZM1449.8 2384.36h24.89v24.89h-24.89ZM1477.12 2384.36h24.89v24.89h-24.89ZM1504.44 2384.36h24.89v24.89h-24.89ZM1531.76 2384.36h24.89v24.89h-24.89ZM1559.08 2385.06h24.89v24.89h-24.89ZM1586.4 2385.06h24.89v24.89h-24.89ZM1613.72 2385.06h24.89v24.89h-24.89ZM1641.04 2385.06h24.89v24.89h-24.89ZM1668.36 2385.06h24.89v24.89h-24.89ZM1695.68 2385.06h24.89v24.89h-24.89ZM1723 2385.06h24.89v24.89h-24.89ZM1750.32 2385.06h24.89v24.89h-24.89ZM1777.64 2385.06h24.89v24.89h-24.89ZM1804.96 2385.06h24.89v24.89h-24.89ZM1832.28 2385.06h24.89v24.89h-24.89ZM1859.6 2385.06h24.89v24.89h-24.89ZM1886.92 2385.06h24.89v24.89h-24.89ZM1914.24 2385.06h24.89v24.89h-24.89ZM1941.56 2385.06h24.89v24.89h-24.89ZM1968.88 2385.06h24.89v24.89h-24.89ZM1996.2 2385.06h24.89v24.89h-24.89ZM2023.52 2385.06h24.89v24.89h-24.89ZM2050.84 2385.06h24.89v24.89h-24.89ZM2078.16 2385.06h24.89v24.89h-24.89ZM2105.48 2385.06h24.89v24.89h-24.89ZM2132.8 2385.06h24.89v24.89h-24.89ZM2160.12 2385.06h24.89v24.89h-24.89ZM2187.44 2385.06h24.89v24.89h-24.89Z" stroke="#0000ff" stroke-width="6.3" fill="none" stroke-linejoin="round"/>
<path d="M494.21 2388.3L506.04 2376.47L517.87 2388.3L506.04 2400.13ZM521.53 2391L533.36 2379.17L545.19 2391L533.36 2402.83ZM548.85 2393.3L560.68 2381.47L572.51 2393.3L560.68 2405.13ZM576.17 2388.3L588 2376.47L599.83 2388.3L588 2400.13ZM603.49 2389L615.32 2377.17L627.15 2389L615.32 2400.83ZM630.81 2390.7L642.64 2378.87L654.47 2390.7L642.64 2402.53ZM658.13 2395L669.96 2383.17L681.79 2395L669.96 2406.83ZM685.45 2395L697.28 2383.17L709.11 2395L697.28 2406.83ZM712.77 2399L724.6 2387.17L736.43 2399L724.6 2410.83ZM740.09 2399L751.92 2387.17L763.75 2399L751.92 2410.83ZM767.41 2401.7L779.24 2389.87L791.07 2401.7L779.24 2413.53ZM794.73 2402.7L806.56 2390.87L818.39 2402.7L806.56 2414.53ZM822.05 2400L833.88 2388.17L845.71 2400L833.88 2411.83ZM849.37 2399.3L861.2 2387.47L873.03 2399.3L861.2 2411.13ZM876.69 2398.3L888.52 2386.47L900.35 2398.3L888.52 2410.13ZM904.01 2399L915.84 2387.17L927.67 2399L915.84 2410.83ZM931.33 2399.3L943.16 2387.47L954.99 2399.3L943.16 2411.13ZM958.65 2401L970.48 2389.17L982.31 2401L970.48 2412.83ZM985.97 2403.3L997.8 2391.47L1009.63 2403.3L997.8 2415.13ZM1013.29 2401L1025.12 2389.17L1036.95 2401L1025.12 2412.83ZM1040.61 2401.7L1052.44 2389.87L1064.27 2401.7L1052.44 2413.53ZM1067.93 2401.7L1079.76 2389.87L1091.59 2401.7L1079.76 2413.53ZM1095.25 2401.7L1107.08 2389.87L1118.91 2401.7L1107.08 2413.53ZM1122.57 2401L1134.4 2389.17L1146.23 2401L1134.4 2412.83ZM1149.89 2399.3L1161.72 2387.47L1173.55 2399.3L1161.72 2411.13ZM1177.21 2398.3L1189.04 2386.47L1200.87 2398.3L1189.04 2410.13ZM1204.53 2396.7L1216.36 2384.87L1228.19 2396.7L1216.36 2408.53ZM1231.85 2396.7L1243.68 2384.87L1255.51 2396.7L1243.68 2408.53ZM1259.17 2396.5L1271 2384.67L1282.83 2396.5L1271 2408.33ZM1286.49 2396.5L1298.32 2384.67L1310.15 2396.5L1298.32 2408.33ZM1313.81 2396.5L1325.64 2384.67L1337.47 2396.5L1325.64 2408.33ZM1341.13 2396.5L1352.96 2384.67L1364.79 2396.5L1352.96 2408.33ZM1368.45 2396.5L1380.28 2384.67L1392.11 2396.5L1380.28 2408.33ZM1395.77 2396.5L1407.6 2384.67L1419.43 2396.5L1407.6 2408.33ZM1423.09 2396.5L1434.92 2384.67L1446.75 2396.5L1434.92 2408.33ZM1450.41 2396.5L1462.24 2384.67L1474.07 2396.5L1462.24 2408.33ZM1477.73 2396.5L1489.56 2384.67L1501.39 2396.5L1489.56 2408.33ZM1505.05 2396.5L1516.88 2384.67L1528.71 2396.5L1516.88 2408.33ZM1532.37 2396.5L1544.2 2384.67L1556.03 2396.5L1544.2 2408.33ZM1559.69 2396.5L1571.52 2384.67L1583.35 2396.5L1571.52 2408.33ZM1587.01 2396.5L1598.84 2384.67L1610.67 2396.5L1598.84 2408.33ZM1614.33 2396.5L1626.16 2384.67L1637.99 2396.5L1626.16 2408.33ZM1641.65 2396.5L1653.48 2384.67L1665.31 2396.5L1653.48 2408.33ZM1668.97 2396.5L1680.8 2384.67L1692.63 2396.5L1680.8 2408.33ZM1696.29 2396.5L1708.12 2384.67L1719.95 2396.5L1708.12 2408.33ZM1723.61 2396.5L1735.44 2384.67L1747.27 2396.5L1735.44 2408.33ZM1750.93 2396.5L1762.76 2384.67L1774.59 2396.5L1762.76 2408.33ZM1778.25 2396.5L1790.08 2384.67L1801.91 2396.5L1790.08 2408.33ZM1805.57 2396.5L1817.4 2384.67L1829.23 2396.5L1817.4 2408.33ZM1832.89 2396.5L1844.72 2384.67L1856.55 2396.5L1844.72 2408.33ZM1860.21 2396.5L1872.04 2384.67L1883.87 2396.5L1872.04 2408.33ZM1887.53 2396.5L1899.36 2384.67L1911.19 2396.5L1899.36 2408.33ZM1914.85 2396.5L1926.68 2384.67L1938.51 2396.5L1926.68 2408.33ZM1942.17 2396.5L1954 2384.67L1965.83 2396.5L1954 2408.33ZM1969.49 2396.5L1981.32 2384.67L1993.15 2396.5L1981.32 2408.33ZM1996.81 2396.5L2008.64 2384.67L2020.47 2396.5L2008.64 2408.33ZM2024.13 2396.5L2035.96 2384.67L2047.79 2396.5L2035.96 2408.33ZM2051.45 2396.5L2063.28 2384.67L2075.11 2396.5L2063.28 2408.33ZM2078.77 2396.5L2090.6 2384.67L2102.43 2396.5L2090.6 2408.33ZM2106.09 2396.5L2117.92 2384.67L2129.75 2396.5L2117.92 2408.33ZM2133.41 2396.5L2145.24 2384.67L2157.07 2396.5L2145.24 2408.33ZM2160.73 2396.5L2172.56 2384.67L2184.39 2396.5L2172.56 2408.33ZM2188.05 2396.5L2199.88 2384.67L2211.71 2396.5L2199.88 2408.33Z" stroke="#00ff00" stroke-width="6.7" fill="none" stroke-linejoin="round"/>
</g>
<g clip-path="url(#clipbb)">
<path d="M299.3 3034.49L314.8 3004.51L330.3 3034.49ZM326.62 3041.24L342.12 3011.26L357.62 3041.24ZM353.94 3011.99L369.44 2982.01L384.94 3011.99ZM381.26 3036.99L396.76 3007.01L412.26 3036.99ZM408.58 2990.99L424.08 2961.01L439.58 2990.99ZM435.9 3013.49L451.4 2983.51L466.9 3013.49ZM463.22 2999.49L478.72 2969.51L494.22 2999.49ZM490.54 2997.99L506.04 2968.01L521.54 2997.99ZM517.86 3019.49L533.36 2989.51L548.86 3019.49ZM545.18 2958.74L560.68 2928.76L576.18 2958.74ZM572.5 3018.99L588 2989.01L603.5 3018.99ZM599.82 3013.24L615.32 2983.26L630.82 3013.24ZM627.14 3007.49L642.64 2977.51L658.14 3007.49ZM654.46 2992.99L669.96 2963.01L685.46 2992.99ZM681.78 3004.99L697.28 2975.01L712.78 3004.99ZM709.1 2989.99L724.6 2960.01L740.1 2989.99ZM736.42 3000.74L751.92 2970.76L767.42 3000.74ZM763.74 3003.99L779.24 2974.01L794.74 3003.99ZM791.06 3009.49L806.56 2979.51L822.06 3009.49ZM818.38 3005.99L833.88 2976.01L849.38 3005.99ZM845.7 3019.99L861.2 2990.01L876.7 3019.99ZM873.02 3024.49L888.52 2994.51L904.02 3024.49ZM900.34 3014.49L915.84 2984.51L931.34 3014.49ZM927.66 3030.99L943.16 3001.01L958.66 3030.99ZM954.98 2989.99L970.48 2960.01L985.98 2989.99ZM982.3 3035.49L997.8 3005.51L1013.3 3035.49ZM1009.62 3030.99L1025.12 3001.01L1040.62 3030.99ZM1036.94 3036.99L1052.44 3007.01L1067.94 3036.99ZM1064.26 3028.49L1079.76 2998.51L1095.26 3028.49ZM1091.58 3011.99L1107.08 2982.01L1122.58 3011.99ZM1118.9 2928.49L1134.4 2898.51L1149.9 2928.49ZM1146.22 3047.49L1161.72 3017.51L1177.22 3047.49ZM1173.54 3052.99L1189.04 3023.01L1204.54 3052.99ZM1200.86 3037.99L1216.36 3008.01L1231.86 3037.99ZM1228.18 3052.99L1243.68 3023.01L1259.18 3052.99ZM1255.5 3058.99L1271 3029.01L1286.5 3058.99ZM1282.82 3009.99L1298.32 2980.01L1313.82 3009.99ZM1310.14 3060.49L1325.64 3030.51L1341.14 3060.49ZM1337.46 3037.49L1352.96 3007.51L1368.46 3037.49ZM1364.78 2978.99L1380.28 2949.01L1395.78 2978.99ZM1392.1 3044.49L1407.6 3014.51L1423.1 3044.49ZM1419.42 3073.99L1434.92 3044.01L1450.42 3073.99ZM1446.74 2999.99L1462.24 2970.01L1477.74 2999.99ZM1474.06 2992.49L1489.56 2962.51L1505.06 2992.49ZM1501.38 3078.49L1516.88 3048.51L1532.38 3078.49ZM1528.7 3074.99L1544.2 3045.01L1559.7 3074.99ZM1556.02 3088.49L1571.52 3058.51L1587.02 3088.49ZM1583.34 2987.49L1598.84 2957.51L1614.34 2987.49ZM1610.66 3084.99L1626.16 3055.01L1641.66 3084.99ZM1637.98 3033.99L1653.48 3004.01L1668.98 3033.99ZM1665.3 3097.99L1680.8 3068.01L1696.3 3097.99ZM1692.62 3003.99L1708.12 2974.01L1723.62 3003.99ZM1719.94 3095.49L1735.44 3065.51L1750.94 3095.49ZM1747.26 2904.99L1762.76 2875.01L1778.26 2904.99ZM1774.58 3003.99L1790.08 2974.01L1805.58 3003.99ZM1801.9 3102.99L1817.4 3073.01L1832.9 3102.99ZM1829.22 3096.99L1844.72 3067.01L1860.22 3096.99ZM1856.54 3113.99L1872.04 3084.01L1887.54 3113.99ZM1883.86 3117.49L1899.36 3087.51L1914.86 3117.49ZM1911.18 2797.49L1926.68 2767.51L1942.18 2797.49ZM1938.5 3073.49L1954 3043.51L1969.5 3073.49ZM1965.82 3121.49L1981.32 3091.51L1996.82 3121.49ZM1993.14 2959.49L2008.64 2929.51L2024.14 2959.49ZM2020.46 3090.99L2035.96 3061.01L2051.46 3090.99ZM2047.78 2962.49L2063.28 2932.51L2078.78 2962.49ZM2075.1 3133.49L2090.6 3103.51L2106.1 3133.49ZM2102.42 3044.99L2117.92 3015.01L2133.42 3044.99ZM2129.74 2996.99L2145.24 2967.01L2160.74 2996.99ZM2157.06 3134.99L2172.56 3105.01L2188.06 3134.99ZM2184.38 2841.49L2199.88 2811.51L2215.38 2841.49Z" stroke="#ff0000" stroke-width="6.7" fill="none" stroke-linejoin="round"/>
<path d="M494.21 2972.5L506.04 2960.67L517.87 2972.5L506.04 2984.33ZM521.53 3025L533.36 3013.17L545.19 3025L533.36 3036.83ZM548.85 3036.5L560.68 3024.67L572.51 3036.5L560.68 3048.33ZM576.17 3053.5L588 3041.67L599.83 3053.5L588 3065.33ZM603.49 3068.5L615.32 3056.67L627.15 3068.5L615.32 3080.33ZM630.81 3083.5L642.64 3071.67L654.47 3083.5L642.64 3095.33ZM658.13 3091L669.96 3079.17L681.79 3091L669.96 3102.83ZM685.45 3095L697.28 3083.17L709.11 3095L697.28 3106.83ZM712.77 3107.5L724.6 3095.67L736.43 3107.5L724.6 3119.33ZM740.09 3116L751.92 3104.17L763.75 3116L751.92 3127.83ZM767.41 3124L779.24 3112.17L791.07 3124L779.24 3135.83ZM794.73 3128.5L806.56 3116.67L818.39 3128.5L806.56 3140.33ZM822.05 3131L833.88 3119.17L845.71 3131L833.88 3142.83ZM849.37 3135L861.2 3123.17L873.03 3135L861.2 3146.83ZM876.69 3140L888.52 3128.17L900.35 3140L888.52 3151.83ZM904.01 3146L915.84 3134.17L927.67 3146L915.84 3157.83ZM931.33 3149L943.16 3137.17L954.99 3149L943.16 3160.83ZM958.65 3154L970.48 3142.17L982.31 3154L970.48 3165.83ZM985.97 3160L997.8 3148.17L1009.63 3160L997.8 3171.83ZM1013.29 3161.5L1025.12 3149.67L1036.95 3161.5L1025.12 3173.33ZM1040.61 3162.5L1052.44 3150.67L1064.27 3162.5L1052.44 3174.33ZM1067.93 3162.5L1079.76 3150.67L1091.59 3162.5L1079.76 3174.33ZM1095.25 3164L1107.08 3152.17L1118.91 3164L1107.08 3175.83ZM1122.57 3165L1134.4 3153.17L1146.23 3165L1134.4 3176.83ZM1149.89 3165L1161.72 3153.17L1173.55 3165L1161.72 3176.83ZM1177.21 3166.5L1189.04 3154.67L1200.87 3166.5L1189.04 3178.33ZM1204.53 3168.5L1216.36 3156.67L1228.19 3168.5L1216.36 3180.33ZM1231.85 3170L1243.68 3158.17L1255.51 3170L1243.68 3181.83ZM1259.17 3172.5L1271 3160.67L1282.83 3172.5L1271 3184.33ZM1286.49 3173.5L1298.32 3161.67L1310.15 3173.5L1298.32 3185.33ZM1313.81 3174L1325.64 3162.17L1337.47 3174L1325.64 3185.83ZM1341.13 3174L1352.96 3162.17L1364.79 3174L1352.96 3185.83ZM1368.45 3174L1380.28 3162.17L1392.11 3174L1380.28 3185.83ZM1395.77 3175L1407.6 3163.17L1419.43 3175L1407.6 3186.83ZM1423.09 3175L1434.92 3163.17L1446.75 3175L1434.92 3186.83ZM1450.41 3176.5L1462.24 3164.67L1474.07 3176.5L1462.24 3188.33ZM1477.73 3178.5L1489.56 3166.67L1501.39 3178.5L1489.56 3190.33ZM1505.05 3178.5L1516.88 3166.67L1528.71 3178.5L1516.88 3190.33ZM1532.37 3178.5L1544.2 3166.67L1556.03 3178.5L1544.2 3190.33ZM1559.69 3179L1571.52 3167.17L1583.35 3179L1571.52 3190.83ZM1587.01 3180L1598.84 3168.17L1610.67 3180L1598.84 3191.83ZM1614.33 3180L1626.16 3168.17L1637.99 3180L1626.16 3191.83ZM1641.65 3181L1653.48 3169.17L1665.31 3181L1653.48 3192.83ZM1668.97 3181L1680.8 3169.17L1692.63 3181L1680.8 3192.83ZM1696.29 3181L1708.12 3169.17L1719.95 3181L1708.12 3192.83ZM1723.61 3181L1735.44 3169.17L1747.27 3181L1735.44 3192.83ZM1750.93 3180L1762.76 3168.17L1774.59 3180L1762.76 3191.83ZM1778.25 3180L1790.08 3168.17L1801.91 3180L1790.08 3191.83ZM1805.57 3180L1817.4 3168.17L1829.23 3180L1817.4 3191.83ZM1832.89 3180L1844.72 3168.17L1856.55 3180L1844.72 3191.83ZM1860.21 3179.5L1872.04 3167.67L1883.87 3179.5L1872.04 3191.33ZM1887.53 3179.5L1899.36 3167.67L1911.19 3179.5L1899.36 3191.33ZM1914.85 3179.5L1926.68 3167.67L1938.51 3179.5L1926.68 3191.33ZM1942.17 3179.5L1954 3167.67L1965.83 3179.5L1954 3191.33ZM1969.49 3179.5L1981.32 3167.67L1993.15 3179.5L1981.32 3191.33ZM1996.81 3179.5L2008.64 3167.67L2020.47 3179.5L2008.64 3191.33ZM2024.13 3179.5L2035.96 3167.67L2047.79 3179.5L2035.96 3191.33ZM2051.45 3179.5L2063.28 3167.67L2075.11 3179.5L2063.28 3191.33ZM2078.77 3179.5L2090.6 3167.67L2102.43 3179.5L2090.6 3191.33ZM2106.09 3179.5L2117.92 3167.67L2129.75 3179.5L2117.92 3191.33ZM2133.41 3179.5L2145.24 3167.67L2157.07 3179.5L2145.24 3191.33ZM2160.73 3179.5L2172.56 3167.67L2184.39 3179.5L2172.56 3191.33ZM2188.05 3179.5L2199.88 3167.67L2211.71 3179.5L2199.88 3191.33Z" stroke="#00ff00" stroke-width="6.7" fill="none" stroke-linejoin="round"/>
<path d="M384.32 3024.06h24.89v24.89h-24.89ZM411.64 3042.56h24.89v24.89h-24.89ZM438.96 3071.56h24.89v24.89h-24.89ZM466.28 3081.56h24.89v24.89h-24.89ZM493.6 3085.06h24.89v24.89h-24.89ZM520.92 3101.56h24.89v24.89h-24.89ZM548.24 3116.06h24.89v24.89h-24.89ZM575.56 3120.06h24.89v24.89h-24.89ZM602.88 3128.56h24.89v24.89h-24.89ZM630.2 3126.56h24.89v24.89h-24.89ZM657.52 3145.06h24.89v24.89h-24.89ZM684.84 3146.56h24.89v24.89h-24.89ZM712.16 3152.56h24.89v24.89h-24.89ZM739.48 3153.56h24.89v24.89h-24.89ZM766.8 3161.06h24.89v24.89h-24.89ZM794.12 3163.56h24.89v24.89h-24.89ZM821.44 3167.56h24.89v24.89h-24.89ZM848.76 3169.06h24.89v24.89h-24.89ZM876.08 3170.06h24.89v24.89h-24.89ZM903.4 3171.56h24.89v24.89h-24.89ZM930.72 3177.56h24.89v24.89h-24.89ZM958.04 3180.06h24.89v24.89h-24.89ZM985.36 3181.56h24.89v24.89h-24.89ZM1012.68 3181.06h24.89v24.89h-24.89ZM1040 3181.06h24.89v24.89h-24.89ZM1067.32 3180.06h24.89v24.89h-24.89ZM1094.64 3180.06h24.89v24.89h-24.89ZM1121.96 3180.06h24.89v24.89h-24.89ZM1149.28 3180.06h24.89v24.89h-24.89ZM1176.6 3176.56h24.89v24.89h-24.89ZM1203.92 3177.56h24.89v24.89h-24.89ZM1231.24 3177.56h24.89v24.89h-24.89ZM1258.56 3175.06h24.89v24.89h-24.89ZM1285.88 3175.06h24.89v24.89h-24.89ZM1313.2 3176.06h24.89v24.89h-24.89ZM1340.52 3176.06h24.89v24.89h-24.89ZM1367.84 3176.56h24.89v24.89h-24.89ZM1395.16 3172.56h24.89v24.89h-24.89ZM1422.48 3172.56h24.89v24.89h-24.89ZM1449.8 3175.06h24.89v24.89h-24.89ZM1477.12 3178.56h24.89v24.89h-24.89ZM1504.44 3178.56h24.89v24.89h-24.89ZM1531.76 3178.56h24.89v24.89h-24.89ZM1559.08 3178.56h24.89v24.89h-24.89ZM1586.4 3179.56h24.89v24.89h-24.89ZM1613.72 3177.56h24.89v24.89h-24.89ZM1641.04 3180.06h24.89v24.89h-24.89ZM1668.36 3182.06h24.89v24.89h-24.89ZM1695.68 3181.56h24.89v24.89h-24.89ZM1723 3182.56h24.89v24.89h-24.89ZM1750.32 3183.56h24.89v24.89h-24.89ZM1777.64 3183.56h24.89v24.89h-24.89ZM1804.96 3183.56h24.89v24.89h-24.89ZM1832.28 3181.06h24.89v24.89h-24.89ZM1859.6 3180.06h24.89v24.89h-24.89ZM1886.92 3180.06h24.89v24.89h-24.89ZM1914.24 3180.06h24.89v24.89h-24.89ZM1941.56 3180.06h24.89v24.89h-24.89ZM1968.88 3180.06h24.89v24.89h-24.89ZM1996.2 3180.06h24.89v24.89h-24.89ZM2023.52 3180.06h24.89v24.89h-24.89ZM2050.84 3180.06h24.89v24.89h-24.89ZM2078.16 3181.56h24.89v24.89h-24.89ZM2105.48 3181.56h24.89v24.89h-24.89ZM2132.8 3181.56h24.89v24.89h-24.89ZM2160.12 3181.56h24.89v24.89h-24.89ZM2187.44 3181.56h24.89v24.89h-24.89Z" stroke="#0000ff" stroke-width="6.3" fill="none" stroke-linejoin="round"/>
</g>
<path d="M417.4 1354.8L436.3 1318.4L455.2 1354.8Z" stroke="#ff0000" stroke-width="5.2" fill="none" stroke-linejoin="round"/>
<path d="M1034 1335.4L1053 1316.4L1072 1335.4L1053 1354.4Z" stroke="#00ff00" stroke-width="6.2" fill="none" stroke-linejoin="round"/>
<path d="M1635.3 1316.4h39.2v38.2h-39.2Z" stroke="#0000ff" stroke-width="5" fill="none" stroke-linejoin="round"/>
<path d="M391 3313.8L410.8 3275.4L430.6 3313.8Z" stroke="#ff0000" stroke-width="6.6" fill="none" stroke-linejoin="round"/>
<path d="M1016.9 3294L1036.5 3274.4L1056.1 3294L1036.5 3313.6Z" stroke="#00ff00" stroke-width="6.8" fill="none" stroke-linejoin="round"/>
<path d="M1633.6 3273.3h40v40h-40Z" stroke="#0000ff" stroke-width="6.9" fill="none" stroke-linejoin="round"/>
<text transform="translate(503.8 117.6) scale(0.9180 1)" style="font-family:'Liberation Sans', Arial, Helvetica, sans-serif;font-size:82.61px;letter-spacing:2.48px" fill="#000">Aqua</text>
<text transform="translate(738.56 117.6) scale(0.8622 1)" style="font-family:'Liberation Sans', Arial, Helvetica, sans-serif;font-size:82.61px;letter-spacing:2.48px" fill="#000">MODIS</text>
<text transform="translate(1018.43 117.6) scale(0.9387 1)" style="font-family:'Liberation Sans', Arial, Helvetica, sans-serif;font-size:82.61px;letter-spacing:2.48px" fill="#000">B5</text>
<text transform="translate(1156.2 117.6) scale(1.0328 1)" style="font-family:'Liberation Sans', Arial, Helvetica, sans-serif;font-size:82.61px;letter-spacing:2.48px" fill="#000">versus</text>
<text transform="translate(1463.79 117.6) scale(0.9272 1)" style="font-family:'Liberation Sans', Arial, Helvetica, sans-serif;font-size:82.61px;letter-spacing:2.48px" fill="#000">SNPP</text>
<text transform="translate(1718.15 117.6) scale(0.8516 1)" style="font-family:'Liberation Sans', Arial, Helvetica, sans-serif;font-size:82.61px;letter-spacing:2.48px" fill="#000">VIIRS</text>
<text transform="translate(1952.98 117.6) scale(0.9458 1)" style="font-family:'Liberation Sans', Arial, Helvetica, sans-serif;font-size:82.61px;letter-spacing:2.48px" fill="#000">M8</text>
<text transform="translate(434.34 271.2) scale(1.0194 1)" style="font-family:'Liberation Sans', Arial, Helvetica, sans-serif;font-size:68.12px;letter-spacing:2.04px" fill="#000">29</text>
<text transform="translate(549.41 271.2) scale(0.8976 1)" style="font-family:'Liberation Sans', Arial, Helvetica, sans-serif;font-size:68.12px;letter-spacing:2.04px" fill="#000">May</text>
<text transform="translate(702.83 271.2) scale(1.0224 1)" style="font-family:'Liberation Sans', Arial, Helvetica, sans-serif;font-size:68.12px;letter-spacing:2.04px" fill="#000">2016</text>
<text transform="translate(170.63 195.85) scale(1.0039 1)" style="font-family:'Liberation Sans', Arial, Helvetica, sans-serif;font-size:65.65px;letter-spacing:1.97px" fill="#000" stroke="#000" stroke-width="1.3" stroke-linejoin="round">1.04</text>
<text transform="translate(170.55 312.75) scale(1.0200 1)" style="font-family:'Liberation Sans', Arial, Helvetica, sans-serif;font-size:65.65px;letter-spacing:1.97px" fill="#000" stroke="#000" stroke-width="1.3" stroke-linejoin="round">1.02</text>
<text transform="translate(170.59 441.55) scale(1.0119 1)" style="font-family:'Liberation Sans', Arial, Helvetica, sans-serif;font-size:65.65px;letter-spacing:1.97px" fill="#000" stroke="#000" stroke-width="1.3" stroke-linejoin="round">1.00</text>
<text transform="translate(164.47 569.75) scale(1.0586 1)" style="font-family:'Liberation Sans', Arial, Helvetica, sans-serif;font-size:65.65px;letter-spacing:1.97px" fill="#000" stroke="#000" stroke-width="1.3" stroke-linejoin="round">0.98</text>
<text transform="translate(164.47 698.55) scale(1.0586 1)" style="font-family:'Liberation Sans', Arial, Helvetica, sans-serif;font-size:65.65px;letter-spacing:1.97px" fill="#000" stroke="#000" stroke-width="1.3" stroke-linejoin="round">0.96</text>
<text transform="translate(266.6 837.85) scale(1.0273 1)" style="font-family:'Liberation Sans', Arial, Helvetica, sans-serif;font-size:65.65px;letter-spacing:1.97px" fill="#000" stroke="#000" stroke-width="1.3" stroke-linejoin="round">4</text>
<text transform="translate(265.92 977.35) scale(1.0774 1)" style="font-family:'Liberation Sans', Arial, Helvetica, sans-serif;font-size:65.65px;letter-spacing:1.97px" fill="#000" stroke="#000" stroke-width="1.3" stroke-linejoin="round">3</text>
<text transform="translate(265.81 1122.35) scale(1.1133 1)" style="font-family:'Liberation Sans', Arial, Helvetica, sans-serif;font-size:65.65px;letter-spacing:1.97px" fill="#000" stroke="#000" stroke-width="1.3" stroke-linejoin="round">2</text>
<text transform="translate(266.79 1265.65) scale(0.8200 1)" style="font-family:'Liberation Sans', Arial, Helvetica, sans-serif;font-size:65.65px;letter-spacing:1.97px" fill="#000" stroke="#000" stroke-width="1.3" stroke-linejoin="round">1</text>
<text transform="translate(265.37 1386.85) scale(1.0935 1)" style="font-family:'Liberation Sans', Arial, Helvetica, sans-serif;font-size:65.65px;letter-spacing:1.97px" fill="#000" stroke="#000" stroke-width="1.3" stroke-linejoin="round">0</text>
<text transform="translate(108.75 557.15) rotate(-90) scale(1.0000 1)" style="font-family:'Liberation Sans', Arial, Helvetica, sans-serif;font-size:65.65px;letter-spacing:1.97px" fill="#000" stroke="#000" stroke-width="1.3" stroke-linejoin="round">Ratio</text>
<text transform="translate(206.45 1314.45) rotate(-90) scale(1.0409 1)" style="font-family:'Liberation Sans', Arial, Helvetica, sans-serif;font-size:65.65px;letter-spacing:1.97px" fill="#000" stroke="#000" stroke-width="1.3" stroke-linejoin="round">Precision</text>
<text transform="translate(206.45 979.15) rotate(-90) scale(0.9990 1)" style="font-family:'Liberation Sans', Arial, Helvetica, sans-serif;font-size:65.65px;letter-spacing:1.97px" fill="#000" stroke="#000" stroke-width="1.3" stroke-linejoin="round">(%)</text>
<text transform="translate(296.75 1484.55) scale(1.1986 1)" style="font-family:'Liberation Sans', Arial, Helvetica, sans-serif;font-size:65.65px;letter-spacing:1.97px" fill="#000" stroke="#000" stroke-width="1.3" stroke-linejoin="round">20</text>
<text transform="translate(565.99 1484.55) scale(1.1814 1)" style="font-family:'Liberation Sans', Arial, Helvetica, sans-serif;font-size:65.65px;letter-spacing:1.97px" fill="#000" stroke="#000" stroke-width="1.3" stroke-linejoin="round">40</text>
<text transform="translate(832.75 1484.55) scale(1.1986 1)" style="font-family:'Liberation Sans', Arial, Helvetica, sans-serif;font-size:65.65px;letter-spacing:1.97px" fill="#000" stroke="#000" stroke-width="1.3" stroke-linejoin="round">60</text>
<text transform="translate(1100.75 1484.55) scale(1.1986 1)" style="font-family:'Liberation Sans', Arial, Helvetica, sans-serif;font-size:65.65px;letter-spacing:1.97px" fill="#000" stroke="#000" stroke-width="1.3" stroke-linejoin="round">80</text>
<text transform="translate(1356.18 1484.55) scale(1.0349 1)" style="font-family:'Liberation Sans', Arial, Helvetica, sans-serif;font-size:65.65px;letter-spacing:1.97px" fill="#000" stroke="#000" stroke-width="1.3" stroke-linejoin="round">100</text>
<text transform="translate(1624.18 1484.55) scale(1.0349 1)" style="font-family:'Liberation Sans', Arial, Helvetica, sans-serif;font-size:65.65px;letter-spacing:1.97px" fill="#000" stroke="#000" stroke-width="1.3" stroke-linejoin="round">120</text>
<text transform="translate(1892.18 1484.55) scale(1.0349 1)" style="font-family:'Liberation Sans', Arial, Helvetica, sans-serif;font-size:65.65px;letter-spacing:1.97px" fill="#000" stroke="#000" stroke-width="1.3" stroke-linejoin="round">140</text>
<text transform="translate(2160.18 1484.55) scale(1.0349 1)" style="font-family:'Liberation Sans', Arial, Helvetica, sans-serif;font-size:65.65px;letter-spacing:1.97px" fill="#000" stroke="#000" stroke-width="1.3" stroke-linejoin="round">160</text>
<text transform="translate(926.75 1565.15) scale(0.9701 1)" style="font-family:'Liberation Sans', Arial, Helvetica, sans-serif;font-size:65.65px;letter-spacing:1.97px" fill="#000" stroke="#000" stroke-width="1.3" stroke-linejoin="round">Area</text>
<text transform="translate(1105.49 1565.15) scale(0.9852 1)" style="font-family:'Liberation Sans', Arial, Helvetica, sans-serif;font-size:65.65px;letter-spacing:1.97px" fill="#000" stroke="#000" stroke-width="1.3" stroke-linejoin="round">Size</text>
<text transform="translate(1276.26 1565.15) scale(0.9982 1)" style="font-family:'Liberation Sans', Arial, Helvetica, sans-serif;font-size:65.65px;letter-spacing:1.97px" fill="#000" stroke="#000" stroke-width="1.3" stroke-linejoin="round">Scale</text>
<text transform="translate(1487.82 1565.15) scale(1.1333 1)" style="font-family:'Liberation Sans', Arial, Helvetica, sans-serif;font-size:65.65px;letter-spacing:1.97px" fill="#000" stroke="#000" stroke-width="1.3" stroke-linejoin="round">(km)</text>
<text transform="translate(503.4 1353) scale(1.0107 1)" style="font-family:'Liberation Sans', Arial, Helvetica, sans-serif;font-size:65.07px;letter-spacing:1.95px" fill="#ff0000" stroke="#ff0000" stroke-width="1.8" stroke-linejoin="round">All−Sample</text>
<text transform="translate(1124.74 1353) scale(1.0319 1)" style="font-family:'Liberation Sans', Arial, Helvetica, sans-serif;font-size:65.07px;letter-spacing:1.95px" fill="#00ff00" stroke="#00ff00" stroke-width="1.8" stroke-linejoin="round">1k−Sample</text>
<text transform="translate(1720.21 1353) scale(1.0639 1)" style="font-family:'Liberation Sans', Arial, Helvetica, sans-serif;font-size:65.07px;letter-spacing:1.95px" fill="#0000ff" stroke="#0000ff" stroke-width="1.8" stroke-linejoin="round">500−Sample</text>
<text transform="translate(1134.05 1755.1) scale(0.9905 1)" style="font-family:'Liberation Serif', 'DejaVu Serif', serif;font-size:103px;letter-spacing:0px" fill="#000" stroke="#000" stroke-width="0.8" stroke-linejoin="round">(a)</text>
<text transform="translate(478.7 2052.6) scale(0.9338 1)" style="font-family:'Liberation Sans', Arial, Helvetica, sans-serif;font-size:84.06px;letter-spacing:2.52px" fill="#000">Aqua</text>
<text transform="translate(718.35 2052.6) scale(0.8647 1)" style="font-family:'Liberation Sans', Arial, Helvetica, sans-serif;font-size:84.06px;letter-spacing:2.52px" fill="#000">MODIS</text>
<text transform="translate(1007.54 2052.6) scale(0.9948 1)" style="font-family:'Liberation Sans', Arial, Helvetica, sans-serif;font-size:84.06px;letter-spacing:2.52px" fill="#000">B4</text>
<text transform="translate(1157.8 2052.6) scale(0.9837 1)" style="font-family:'Liberation Sans', Arial, Helvetica, sans-serif;font-size:84.06px;letter-spacing:2.52px" fill="#000">versus</text>
<text transform="translate(1458.11 2052.6) scale(0.9232 1)" style="font-family:'Liberation Sans', Arial, Helvetica, sans-serif;font-size:84.06px;letter-spacing:2.52px" fill="#000">SNPP</text>
<text transform="translate(1715.85 2052.6) scale(0.8520 1)" style="font-family:'Liberation Sans', Arial, Helvetica, sans-serif;font-size:84.06px;letter-spacing:2.52px" fill="#000">VIIRS</text>
<text transform="translate(1956 2052.6) scale(0.9145 1)" style="font-family:'Liberation Sans', Arial, Helvetica, sans-serif;font-size:84.06px;letter-spacing:2.52px" fill="#000">M4</text>
<text transform="translate(415.2 2183) scale(0.8606 1)" style="font-family:'Liberation Sans', Arial, Helvetica, sans-serif;font-size:69.28px;letter-spacing:2.08px" fill="#000">11</text>
<text transform="translate(526.25 2183) scale(0.9546 1)" style="font-family:'Liberation Sans', Arial, Helvetica, sans-serif;font-size:69.28px;letter-spacing:2.08px" fill="#000">June</text>
<text transform="translate(708.69 2183) scale(1.0383 1)" style="font-family:'Liberation Sans', Arial, Helvetica, sans-serif;font-size:69.28px;letter-spacing:2.08px" fill="#000">2016</text>
<text transform="translate(140.28 2189.35) scale(0.9336 1)" style="font-family:'Liberation Sans', Arial, Helvetica, sans-serif;font-size:66.96px;letter-spacing:2.01px" fill="#000" stroke="#000" stroke-width="1.3" stroke-linejoin="round">1.01</text>
<text transform="translate(139.9 2282.95) scale(1.0109 1)" style="font-family:'Liberation Sans', Arial, Helvetica, sans-serif;font-size:66.96px;letter-spacing:2.01px" fill="#000" stroke="#000" stroke-width="1.3" stroke-linejoin="round">1.00</text>
<text transform="translate(133.45 2376.35) scale(1.0669 1)" style="font-family:'Liberation Sans', Arial, Helvetica, sans-serif;font-size:66.96px;letter-spacing:2.01px" fill="#000" stroke="#000" stroke-width="1.3" stroke-linejoin="round">0.99</text>
<text transform="translate(133.45 2469.75) scale(1.0669 1)" style="font-family:'Liberation Sans', Arial, Helvetica, sans-serif;font-size:66.96px;letter-spacing:2.01px" fill="#000" stroke="#000" stroke-width="1.3" stroke-linejoin="round">0.98</text>
<text transform="translate(133.45 2562.95) scale(1.0669 1)" style="font-family:'Liberation Sans', Arial, Helvetica, sans-serif;font-size:66.96px;letter-spacing:2.01px" fill="#000" stroke="#000" stroke-width="1.3" stroke-linejoin="round">0.97</text>
<text transform="translate(133.45 2656.75) scale(1.0669 1)" style="font-family:'Liberation Sans', Arial, Helvetica, sans-serif;font-size:66.96px;letter-spacing:2.01px" fill="#000" stroke="#000" stroke-width="1.3" stroke-linejoin="round">0.96</text>
<text transform="translate(133.45 2743.95) scale(1.0669 1)" style="font-family:'Liberation Sans', Arial, Helvetica, sans-serif;font-size:66.96px;letter-spacing:2.01px" fill="#000" stroke="#000" stroke-width="1.3" stroke-linejoin="round">0.95</text>
<text transform="translate(235.85 2909.35) scale(1.1677 1)" style="font-family:'Liberation Sans', Arial, Helvetica, sans-serif;font-size:66.96px;letter-spacing:2.01px" fill="#000" stroke="#000" stroke-width="1.3" stroke-linejoin="round">3</text>
<text transform="translate(236.18 3065.05) scale(1.1581 1)" style="font-family:'Liberation Sans', Arial, Helvetica, sans-serif;font-size:66.96px;letter-spacing:2.01px" fill="#000" stroke="#000" stroke-width="1.3" stroke-linejoin="round">2</text>
<text transform="translate(238.47 3216.85) scale(0.8200 1)" style="font-family:'Liberation Sans', Arial, Helvetica, sans-serif;font-size:66.96px;letter-spacing:2.01px" fill="#000" stroke="#000" stroke-width="1.3" stroke-linejoin="round">1</text>
<text transform="translate(235.96 3348.35) scale(1.1313 1)" style="font-family:'Liberation Sans', Arial, Helvetica, sans-serif;font-size:66.96px;letter-spacing:2.01px" fill="#000" stroke="#000" stroke-width="1.3" stroke-linejoin="round">0</text>
<text transform="translate(75.65 2500.84) rotate(-90) scale(0.9981 1)" style="font-family:'Liberation Sans', Arial, Helvetica, sans-serif;font-size:66.96px;letter-spacing:2.01px" fill="#000" stroke="#000" stroke-width="1.3" stroke-linejoin="round">Ratio</text>
<text transform="translate(175.05 3274.13) rotate(-90) scale(1.0473 1)" style="font-family:'Liberation Sans', Arial, Helvetica, sans-serif;font-size:66.96px;letter-spacing:2.01px" fill="#000" stroke="#000" stroke-width="1.3" stroke-linejoin="round">Precision</text>
<text transform="translate(175.05 2930.47) rotate(-90) scale(1.0060 1)" style="font-family:'Liberation Sans', Arial, Helvetica, sans-serif;font-size:66.96px;letter-spacing:2.01px" fill="#000" stroke="#000" stroke-width="1.3" stroke-linejoin="round">(%)</text>
<text transform="translate(268.24 3446.75) scale(1.1366 1)" style="font-family:'Liberation Sans', Arial, Helvetica, sans-serif;font-size:66.96px;letter-spacing:2.01px" fill="#000" stroke="#000" stroke-width="1.3" stroke-linejoin="round">20</text>
<text transform="translate(542.61 3446.75) scale(1.1208 1)" style="font-family:'Liberation Sans', Arial, Helvetica, sans-serif;font-size:66.96px;letter-spacing:2.01px" fill="#000" stroke="#000" stroke-width="1.3" stroke-linejoin="round">40</text>
<text transform="translate(814.64 3446.75) scale(1.1366 1)" style="font-family:'Liberation Sans', Arial, Helvetica, sans-serif;font-size:66.96px;letter-spacing:2.01px" fill="#000" stroke="#000" stroke-width="1.3" stroke-linejoin="round">60</text>
<text transform="translate(1087.84 3446.75) scale(1.1366 1)" style="font-family:'Liberation Sans', Arial, Helvetica, sans-serif;font-size:66.96px;letter-spacing:2.01px" fill="#000" stroke="#000" stroke-width="1.3" stroke-linejoin="round">80</text>
<text transform="translate(1350.84 3446.75) scale(1.0213 1)" style="font-family:'Liberation Sans', Arial, Helvetica, sans-serif;font-size:66.96px;letter-spacing:2.01px" fill="#000" stroke="#000" stroke-width="1.3" stroke-linejoin="round">100</text>
<text transform="translate(1624.04 3446.75) scale(1.0213 1)" style="font-family:'Liberation Sans', Arial, Helvetica, sans-serif;font-size:66.96px;letter-spacing:2.01px" fill="#000" stroke="#000" stroke-width="1.3" stroke-linejoin="round">120</text>
<text transform="translate(1897.24 3446.75) scale(1.0213 1)" style="font-family:'Liberation Sans', Arial, Helvetica, sans-serif;font-size:66.96px;letter-spacing:2.01px" fill="#000" stroke="#000" stroke-width="1.3" stroke-linejoin="round">140</text>
<text transform="translate(2170.44 3446.75) scale(1.0213 1)" style="font-family:'Liberation Sans', Arial, Helvetica, sans-serif;font-size:66.96px;letter-spacing:2.01px" fill="#000" stroke="#000" stroke-width="1.3" stroke-linejoin="round">160</text>
<text transform="translate(910.45 3530.75) scale(0.9619 1)" style="font-family:'Liberation Sans', Arial, Helvetica, sans-serif;font-size:66.96px;letter-spacing:2.01px" fill="#000" stroke="#000" stroke-width="1.3" stroke-linejoin="round">Area</text>
<text transform="translate(1093 3530.75) scale(0.9831 1)" style="font-family:'Liberation Sans', Arial, Helvetica, sans-serif;font-size:66.96px;letter-spacing:2.01px" fill="#000" stroke="#000" stroke-width="1.3" stroke-linejoin="round">Size</text>
<text transform="translate(1266.46 3530.75) scale(0.9970 1)" style="font-family:'Liberation Sans', Arial, Helvetica, sans-serif;font-size:66.96px;letter-spacing:2.01px" fill="#000" stroke="#000" stroke-width="1.3" stroke-linejoin="round">Scale</text>
<text transform="translate(1480.79 3530.75) scale(1.1402 1)" style="font-family:'Liberation Sans', Arial, Helvetica, sans-serif;font-size:66.96px;letter-spacing:2.01px" fill="#000" stroke="#000" stroke-width="1.3" stroke-linejoin="round">(km)</text>
<text transform="translate(476.9 3313.6) scale(1.0132 1)" style="font-family:'Liberation Sans', Arial, Helvetica, sans-serif;font-size:66.96px;letter-spacing:2.01px" fill="#ff0000" stroke="#ff0000" stroke-width="1.8" stroke-linejoin="round">All−Sample</text>
<text transform="translate(1111.76 3313.6) scale(1.0281 1)" style="font-family:'Liberation Sans', Arial, Helvetica, sans-serif;font-size:66.96px;letter-spacing:2.01px" fill="#00ff00" stroke="#00ff00" stroke-width="1.8" stroke-linejoin="round">1k−Sample</text>
<text transform="translate(1721.25 3313.6) scale(1.0505 1)" style="font-family:'Liberation Sans', Arial, Helvetica, sans-serif;font-size:66.96px;letter-spacing:2.01px" fill="#0000ff" stroke="#0000ff" stroke-width="1.8" stroke-linejoin="round">500−Sample</text>
<text transform="translate(1132.3 3670.4) scale(0.9793 1)" style="font-family:'Liberation Serif', 'DejaVu Serif', serif;font-size:103px;letter-spacing:0px" fill="#000" stroke="#000" stroke-width="0.8" stroke-linejoin="round">(b)</text>
</svg></body></html>
